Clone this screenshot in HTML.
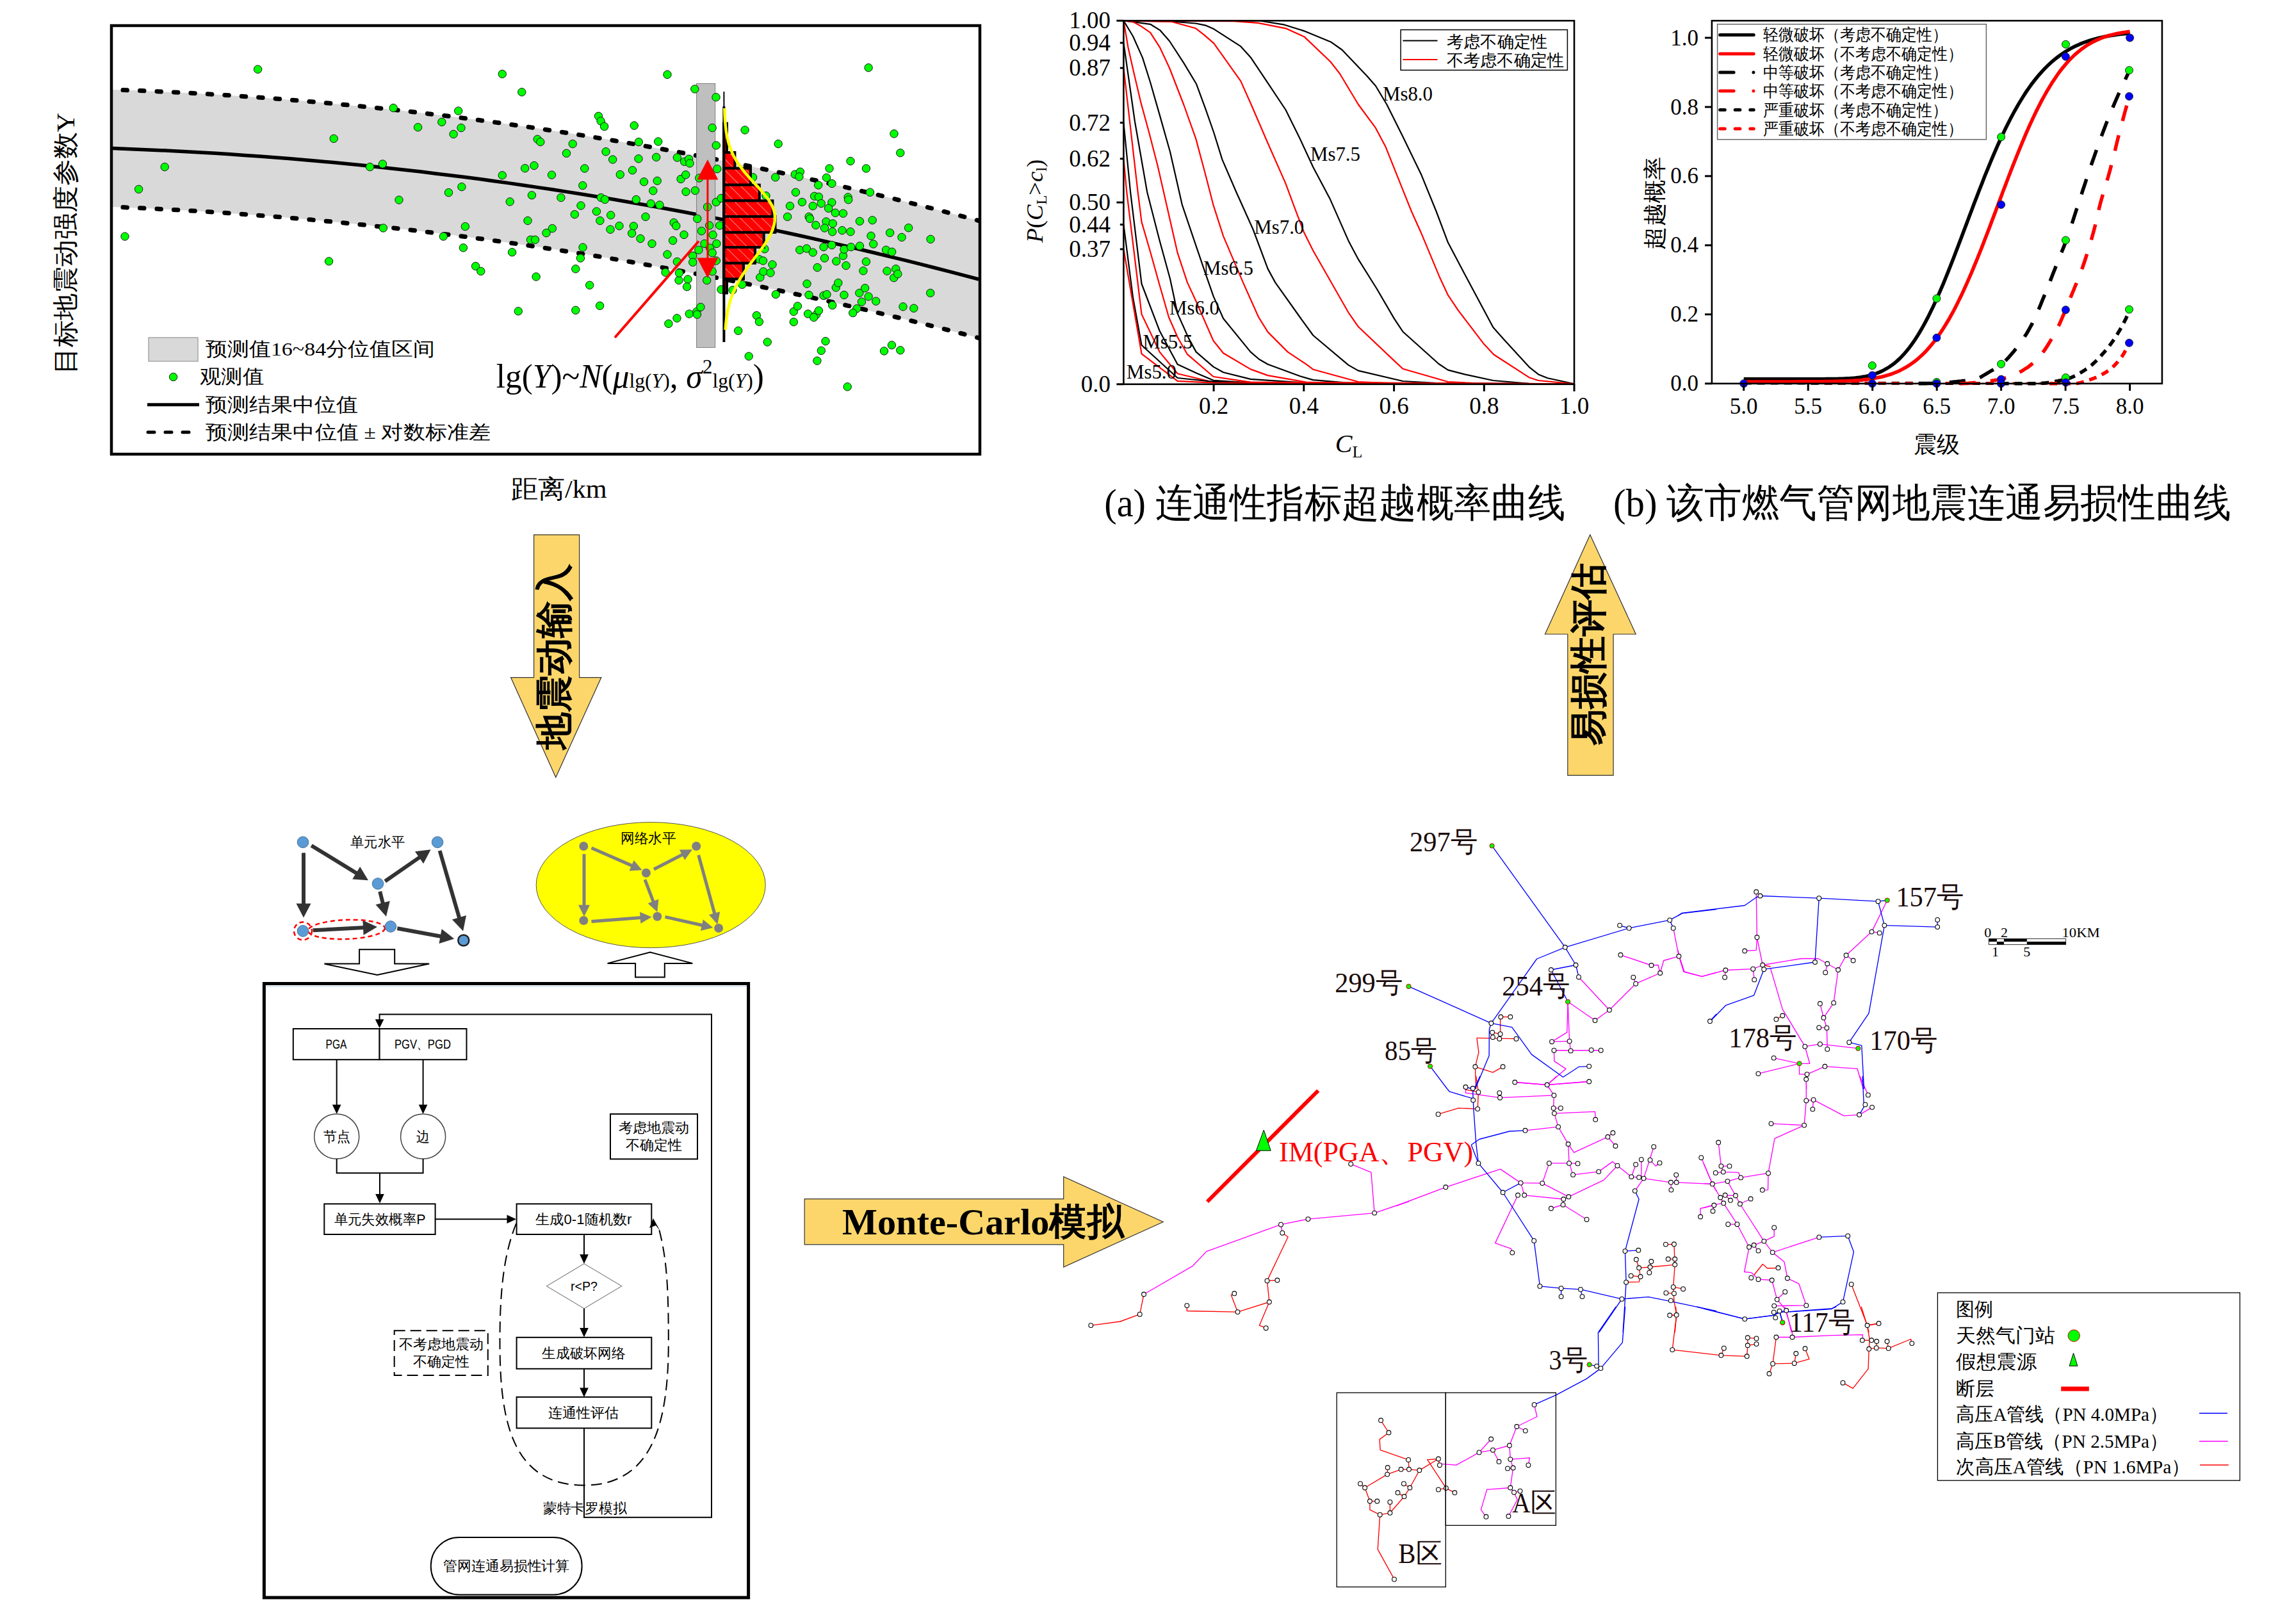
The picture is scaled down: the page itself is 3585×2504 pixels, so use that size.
<!DOCTYPE html>
<html><head><meta charset="utf-8"><style>html,body{margin:0;padding:0;background:#fff;}svg{display:block;}</style></head>
<body><svg width="3585" height="2504" viewBox="0 0 3585 2504">
<rect width="3585" height="2504" fill="#fff"/>
<polygon points="176,140 198.9,140.8 221.8,141.7 244.7,142.7 267.7,143.8 290.6,144.9 313.5,146.2 336.4,147.6 359.3,149 382.2,150.5 405.2,152.2 428.1,153.9 451,155.7 473.9,157.6 496.8,159.6 519.7,161.7 542.6,163.9 565.6,166.1 588.5,168.5 611.4,171 634.3,173.5 657.2,176.2 680.1,178.9 703.1,181.7 726,184.6 748.9,187.6 771.8,190.7 794.7,193.9 817.6,197.2 840.5,200.6 863.5,204 886.4,207.6 909.3,211.3 932.2,215 955.1,218.8 978,222.8 1000.9,226.8 1023.9,230.9 1046.8,235.1 1069.7,239.4 1092.6,243.8 1115.5,248.2 1138.4,252.8 1161.4,257.5 1184.3,262.2 1207.2,267.1 1230.1,272 1253,277 1275.9,282.1 1298.8,287.3 1321.8,292.6 1344.7,298 1367.6,303.5 1390.5,309.1 1413.4,314.8 1436.3,320.5 1459.3,326.4 1482.2,332.3 1505.1,338.4 1528,344.5 1528,527.6 1505.1,521.6 1482.2,515.7 1459.3,509.9 1436.3,504.1 1413.4,498.5 1390.5,492.9 1367.6,487.4 1344.7,482 1321.8,476.7 1298.8,471.5 1275.9,466.4 1253,461.4 1230.1,456.4 1207.2,451.5 1184.3,446.8 1161.4,442.1 1138.4,437.5 1115.5,433 1092.6,428.5 1069.7,424.2 1046.8,419.9 1023.9,415.8 1000.9,411.7 978,407.7 955.1,403.8 932.2,400 909.3,396.2 886.4,392.6 863.5,389 840.5,385.6 817.6,382.2 794.7,378.9 771.8,375.7 748.9,372.6 726,369.6 703.1,366.6 680.1,363.7 657.2,361 634.3,358.3 611.4,355.7 588.5,353.2 565.6,350.8 542.6,348.4 519.7,346.2 496.8,344 473.9,342 451,340 428.1,338.1 405.2,336.3 382.2,334.6 359.3,332.9 336.4,331.4 313.5,329.9 290.6,328.5 267.7,327.3 244.7,326.1 221.8,325 198.9,323.9 176,323" fill="#d9d9d9"/>
<polyline points="192,140.6 214.6,141.4 237.3,142.4 259.9,143.4 282.6,144.5 305.2,145.7 327.9,147 350.5,148.4 373.2,149.9 395.8,151.5 418.4,153.2 441.1,154.9 463.7,156.8 486.4,158.7 509,160.7 531.7,162.8 554.3,165 576.9,167.3 599.6,169.7 622.2,172.2 644.9,174.7 667.5,177.4 690.2,180.1 712.8,182.9 735.5,185.9 758.1,188.9 780.7,192 803.4,195.2 826,198.4 848.7,201.8 871.3,205.3 894,208.8 916.6,212.4 939.3,216.2 961.9,220 984.5,223.9 1007.2,227.9 1029.8,232 1052.5,236.1 1075.1,240.4 1097.8,244.8 1120.4,249.2 1143.1,253.7 1165.7,258.4 1188.3,263.1 1211,267.9 1233.6,272.8 1256.3,277.7 1278.9,282.8 1301.6,288 1324.2,293.2 1346.8,298.6 1369.5,304 1392.1,309.5 1414.8,315.1 1437.4,320.8 1460.1,326.6 1482.7,332.5 1505.4,338.4 1528,344.5" fill="none" stroke="#000" stroke-width="7" stroke-dasharray="6.5,20" stroke-linecap="round"/>
<polyline points="192,323.6 214.6,324.6 237.3,325.7 259.9,326.9 282.6,328.1 305.2,329.4 327.9,330.8 350.5,332.3 373.2,333.9 395.8,335.6 418.4,337.3 441.1,339.2 463.7,341.1 486.4,343.1 509,345.2 531.7,347.4 554.3,349.6 576.9,352 599.6,354.4 622.2,356.9 644.9,359.5 667.5,362.2 690.2,365 712.8,367.8 735.5,370.8 758.1,373.8 780.7,376.9 803.4,380.1 826,383.4 848.7,386.8 871.3,390.3 894,393.8 916.6,397.4 939.3,401.1 961.9,404.9 984.5,408.8 1007.2,412.8 1029.8,416.8 1052.5,421 1075.1,425.2 1097.8,429.5 1120.4,433.9 1143.1,438.4 1165.7,443 1188.3,447.6 1211,452.3 1233.6,457.2 1256.3,462.1 1278.9,467.1 1301.6,472.1 1324.2,477.3 1346.8,482.5 1369.5,487.9 1392.1,493.3 1414.8,498.8 1437.4,504.4 1460.1,510.1 1482.7,515.8 1505.4,521.7 1528,527.6" fill="none" stroke="#000" stroke-width="7" stroke-dasharray="6.5,20" stroke-linecap="round"/>
<polyline points="176,231.6 198.9,232.4 221.8,233.4 244.7,234.4 267.7,235.5 290.6,236.7 313.5,238 336.4,239.3 359.3,240.8 382.2,242.4 405.2,244 428.1,245.7 451,247.6 473.9,249.5 496.8,251.5 519.7,253.6 542.6,255.8 565.6,258.1 588.5,260.5 611.4,262.9 634.3,265.5 657.2,268.1 680.1,270.9 703.1,273.7 726,276.6 748.9,279.6 771.8,282.7 794.7,285.9 817.6,289.2 840.5,292.6 863.5,296 886.4,299.6 909.3,303.2 932.2,307 955.1,310.8 978,314.7 1000.9,318.7 1023.9,322.8 1046.8,327 1069.7,331.3 1092.6,335.7 1115.5,340.1 1138.4,344.7 1161.4,349.3 1184.3,354.1 1207.2,358.9 1230.1,363.8 1253,368.8 1275.9,373.9 1298.8,379.1 1321.8,384.4 1344.7,389.8 1367.6,395.2 1390.5,400.8 1413.4,406.4 1436.3,412.2 1459.3,418 1482.2,423.9 1505.1,429.9 1528,436" fill="none" stroke="#000" stroke-width="5.5"/>
<rect x="1087.6" y="130.4" width="29.1" height="412.1" fill="#bfbfbf" stroke="#7f7f7f" stroke-width="1"/>
<circle cx="402.6" cy="108.2" r="6.2" fill="#00ff00" stroke="#1a1a1a" stroke-width="1"/>
<circle cx="784.3" cy="115.5" r="6.2" fill="#00ff00" stroke="#1a1a1a" stroke-width="1"/>
<circle cx="814.8" cy="143.8" r="6.2" fill="#00ff00" stroke="#1a1a1a" stroke-width="1"/>
<circle cx="614.2" cy="168.5" r="6.2" fill="#00ff00" stroke="#1a1a1a" stroke-width="1"/>
<circle cx="715.7" cy="173.1" r="6.2" fill="#00ff00" stroke="#1a1a1a" stroke-width="1"/>
<circle cx="689.8" cy="190.5" r="6.2" fill="#00ff00" stroke="#1a1a1a" stroke-width="1"/>
<circle cx="652.6" cy="198.7" r="6.2" fill="#00ff00" stroke="#1a1a1a" stroke-width="1"/>
<circle cx="720" cy="199.6" r="6.2" fill="#00ff00" stroke="#1a1a1a" stroke-width="1"/>
<circle cx="708.1" cy="209.4" r="6.2" fill="#00ff00" stroke="#1a1a1a" stroke-width="1"/>
<circle cx="521.2" cy="216.4" r="6.2" fill="#00ff00" stroke="#1a1a1a" stroke-width="1"/>
<circle cx="839.2" cy="217.3" r="6.2" fill="#00ff00" stroke="#1a1a1a" stroke-width="1"/>
<circle cx="843.8" cy="221.6" r="6.2" fill="#00ff00" stroke="#1a1a1a" stroke-width="1"/>
<circle cx="597.4" cy="256" r="6.2" fill="#00ff00" stroke="#1a1a1a" stroke-width="1"/>
<circle cx="577.6" cy="260.6" r="6.2" fill="#00ff00" stroke="#1a1a1a" stroke-width="1"/>
<circle cx="257.2" cy="260.6" r="6.2" fill="#00ff00" stroke="#1a1a1a" stroke-width="1"/>
<circle cx="834" cy="258.5" r="6.2" fill="#00ff00" stroke="#1a1a1a" stroke-width="1"/>
<circle cx="819.7" cy="262.7" r="6.2" fill="#00ff00" stroke="#1a1a1a" stroke-width="1"/>
<circle cx="784.3" cy="273.7" r="6.2" fill="#00ff00" stroke="#1a1a1a" stroke-width="1"/>
<circle cx="861.5" cy="273.1" r="6.2" fill="#00ff00" stroke="#1a1a1a" stroke-width="1"/>
<circle cx="216.6" cy="295.4" r="6.2" fill="#00ff00" stroke="#1a1a1a" stroke-width="1"/>
<circle cx="720.9" cy="291.7" r="6.2" fill="#00ff00" stroke="#1a1a1a" stroke-width="1"/>
<circle cx="700.5" cy="300.6" r="6.2" fill="#00ff00" stroke="#1a1a1a" stroke-width="1"/>
<circle cx="830.4" cy="304.8" r="6.2" fill="#00ff00" stroke="#1a1a1a" stroke-width="1"/>
<circle cx="623" cy="312.1" r="6.2" fill="#00ff00" stroke="#1a1a1a" stroke-width="1"/>
<circle cx="796.2" cy="314.9" r="6.2" fill="#00ff00" stroke="#1a1a1a" stroke-width="1"/>
<circle cx="824" cy="344.5" r="6.2" fill="#00ff00" stroke="#1a1a1a" stroke-width="1"/>
<circle cx="726.4" cy="353.6" r="6.2" fill="#00ff00" stroke="#1a1a1a" stroke-width="1"/>
<circle cx="598.4" cy="356" r="6.2" fill="#00ff00" stroke="#1a1a1a" stroke-width="1"/>
<circle cx="862.4" cy="356.6" r="6.2" fill="#00ff00" stroke="#1a1a1a" stroke-width="1"/>
<circle cx="853" cy="363.7" r="6.2" fill="#00ff00" stroke="#1a1a1a" stroke-width="1"/>
<circle cx="692.3" cy="369.1" r="6.2" fill="#00ff00" stroke="#1a1a1a" stroke-width="1"/>
<circle cx="828.5" cy="374.3" r="6.2" fill="#00ff00" stroke="#1a1a1a" stroke-width="1"/>
<circle cx="835.5" cy="374.3" r="6.2" fill="#00ff00" stroke="#1a1a1a" stroke-width="1"/>
<circle cx="195" cy="369.1" r="6.2" fill="#00ff00" stroke="#1a1a1a" stroke-width="1"/>
<circle cx="723.4" cy="386.8" r="6.2" fill="#00ff00" stroke="#1a1a1a" stroke-width="1"/>
<circle cx="799.6" cy="393.8" r="6.2" fill="#00ff00" stroke="#1a1a1a" stroke-width="1"/>
<circle cx="513.6" cy="407.9" r="6.2" fill="#00ff00" stroke="#1a1a1a" stroke-width="1"/>
<circle cx="742.6" cy="415.5" r="6.2" fill="#00ff00" stroke="#1a1a1a" stroke-width="1"/>
<circle cx="750.8" cy="423.4" r="6.2" fill="#00ff00" stroke="#1a1a1a" stroke-width="1"/>
<circle cx="837.1" cy="432" r="6.2" fill="#00ff00" stroke="#1a1a1a" stroke-width="1"/>
<circle cx="809.3" cy="485.8" r="6.2" fill="#00ff00" stroke="#1a1a1a" stroke-width="1"/>
<circle cx="920.7" cy="445.2" r="6.2" fill="#00ff00" stroke="#1a1a1a" stroke-width="1"/>
<circle cx="898.8" cy="484.3" r="6.2" fill="#00ff00" stroke="#1a1a1a" stroke-width="1"/>
<circle cx="936.6" cy="477.3" r="6.2" fill="#00ff00" stroke="#1a1a1a" stroke-width="1"/>
<circle cx="1043.9" cy="505.3" r="6.2" fill="#00ff00" stroke="#1a1a1a" stroke-width="1"/>
<circle cx="1057" cy="496.8" r="6.2" fill="#00ff00" stroke="#1a1a1a" stroke-width="1"/>
<circle cx="1076.2" cy="490" r="6.2" fill="#00ff00" stroke="#1a1a1a" stroke-width="1"/>
<circle cx="1087.8" cy="486.4" r="6.2" fill="#00ff00" stroke="#1a1a1a" stroke-width="1"/>
<circle cx="1088.4" cy="491" r="6.2" fill="#00ff00" stroke="#1a1a1a" stroke-width="1"/>
<circle cx="1093.9" cy="479.4" r="6.2" fill="#00ff00" stroke="#1a1a1a" stroke-width="1"/>
<circle cx="1152.7" cy="516.3" r="6.2" fill="#00ff00" stroke="#1a1a1a" stroke-width="1"/>
<circle cx="1181.4" cy="492.5" r="6.2" fill="#00ff00" stroke="#1a1a1a" stroke-width="1"/>
<circle cx="1185.4" cy="502.3" r="6.2" fill="#00ff00" stroke="#1a1a1a" stroke-width="1"/>
<circle cx="1198.2" cy="534" r="6.2" fill="#00ff00" stroke="#1a1a1a" stroke-width="1"/>
<circle cx="1169.2" cy="556.2" r="6.2" fill="#00ff00" stroke="#1a1a1a" stroke-width="1"/>
<circle cx="1211.3" cy="459.6" r="6.2" fill="#00ff00" stroke="#1a1a1a" stroke-width="1"/>
<circle cx="1239.3" cy="486.4" r="6.2" fill="#00ff00" stroke="#1a1a1a" stroke-width="1"/>
<circle cx="1245.4" cy="477.9" r="6.2" fill="#00ff00" stroke="#1a1a1a" stroke-width="1"/>
<circle cx="1261.6" cy="490" r="6.2" fill="#00ff00" stroke="#1a1a1a" stroke-width="1"/>
<circle cx="1274.7" cy="491" r="6.2" fill="#00ff00" stroke="#1a1a1a" stroke-width="1"/>
<circle cx="1278.4" cy="484.9" r="6.2" fill="#00ff00" stroke="#1a1a1a" stroke-width="1"/>
<circle cx="1270.7" cy="495.5" r="6.2" fill="#00ff00" stroke="#1a1a1a" stroke-width="1"/>
<circle cx="1239.3" cy="502.6" r="6.2" fill="#00ff00" stroke="#1a1a1a" stroke-width="1"/>
<circle cx="1289" cy="532.7" r="6.2" fill="#00ff00" stroke="#1a1a1a" stroke-width="1"/>
<circle cx="1282.3" cy="547.4" r="6.2" fill="#00ff00" stroke="#1a1a1a" stroke-width="1"/>
<circle cx="1275.9" cy="563.2" r="6.2" fill="#00ff00" stroke="#1a1a1a" stroke-width="1"/>
<circle cx="1323.2" cy="603.8" r="6.2" fill="#00ff00" stroke="#1a1a1a" stroke-width="1"/>
<circle cx="1299.7" cy="476.6" r="6.2" fill="#00ff00" stroke="#1a1a1a" stroke-width="1"/>
<circle cx="1260" cy="443" r="6.2" fill="#00ff00" stroke="#1a1a1a" stroke-width="1"/>
<circle cx="1263" cy="460.5" r="6.2" fill="#00ff00" stroke="#1a1a1a" stroke-width="1"/>
<circle cx="1286" cy="461.4" r="6.2" fill="#00ff00" stroke="#1a1a1a" stroke-width="1"/>
<circle cx="1291" cy="459.6" r="6.2" fill="#00ff00" stroke="#1a1a1a" stroke-width="1"/>
<circle cx="1305.2" cy="448.9" r="6.2" fill="#00ff00" stroke="#1a1a1a" stroke-width="1"/>
<circle cx="1308.8" cy="441.6" r="6.2" fill="#00ff00" stroke="#1a1a1a" stroke-width="1"/>
<circle cx="1318" cy="460.5" r="6.2" fill="#00ff00" stroke="#1a1a1a" stroke-width="1"/>
<circle cx="1341.8" cy="457.4" r="6.2" fill="#00ff00" stroke="#1a1a1a" stroke-width="1"/>
<circle cx="1350.6" cy="449.8" r="6.2" fill="#00ff00" stroke="#1a1a1a" stroke-width="1"/>
<circle cx="1356.1" cy="462.9" r="6.2" fill="#00ff00" stroke="#1a1a1a" stroke-width="1"/>
<circle cx="1367.7" cy="470.2" r="6.2" fill="#00ff00" stroke="#1a1a1a" stroke-width="1"/>
<circle cx="1345.4" cy="471.2" r="6.2" fill="#00ff00" stroke="#1a1a1a" stroke-width="1"/>
<circle cx="1337.8" cy="481.8" r="6.2" fill="#00ff00" stroke="#1a1a1a" stroke-width="1"/>
<circle cx="1331.7" cy="488.5" r="6.2" fill="#00ff00" stroke="#1a1a1a" stroke-width="1"/>
<circle cx="1410" cy="478.8" r="6.2" fill="#00ff00" stroke="#1a1a1a" stroke-width="1"/>
<circle cx="1426.8" cy="481.2" r="6.2" fill="#00ff00" stroke="#1a1a1a" stroke-width="1"/>
<circle cx="1452.7" cy="457.4" r="6.2" fill="#00ff00" stroke="#1a1a1a" stroke-width="1"/>
<circle cx="1392.4" cy="538.8" r="6.2" fill="#00ff00" stroke="#1a1a1a" stroke-width="1"/>
<circle cx="1380.5" cy="548" r="6.2" fill="#00ff00" stroke="#1a1a1a" stroke-width="1"/>
<circle cx="1405.8" cy="546.8" r="6.2" fill="#00ff00" stroke="#1a1a1a" stroke-width="1"/>
<circle cx="1395.7" cy="433.7" r="6.2" fill="#00ff00" stroke="#1a1a1a" stroke-width="1"/>
<circle cx="1186.9" cy="433" r="6.2" fill="#00ff00" stroke="#1a1a1a" stroke-width="1"/>
<circle cx="1074" cy="436" r="6.2" fill="#00ff00" stroke="#1a1a1a" stroke-width="1"/>
<circle cx="1060" cy="437.6" r="6.2" fill="#00ff00" stroke="#1a1a1a" stroke-width="1"/>
<circle cx="1072.6" cy="447.7" r="6.2" fill="#00ff00" stroke="#1a1a1a" stroke-width="1"/>
<circle cx="1126" cy="452" r="6.2" fill="#00ff00" stroke="#1a1a1a" stroke-width="1"/>
<circle cx="1144" cy="452.9" r="6.2" fill="#00ff00" stroke="#1a1a1a" stroke-width="1"/>
<circle cx="1158.8" cy="444.3" r="6.2" fill="#00ff00" stroke="#1a1a1a" stroke-width="1"/>
<circle cx="1103.7" cy="437.6" r="6.2" fill="#00ff00" stroke="#1a1a1a" stroke-width="1"/>
<circle cx="1042" cy="116.4" r="6.2" fill="#00ff00" stroke="#1a1a1a" stroke-width="1"/>
<circle cx="1356.1" cy="105.7" r="6.2" fill="#00ff00" stroke="#1a1a1a" stroke-width="1"/>
<circle cx="1084.8" cy="139" r="6.2" fill="#00ff00" stroke="#1a1a1a" stroke-width="1"/>
<circle cx="1118" cy="151.8" r="6.2" fill="#00ff00" stroke="#1a1a1a" stroke-width="1"/>
<circle cx="934.5" cy="181.3" r="6.2" fill="#00ff00" stroke="#1a1a1a" stroke-width="1"/>
<circle cx="938.1" cy="189" r="6.2" fill="#00ff00" stroke="#1a1a1a" stroke-width="1"/>
<circle cx="943.6" cy="197.5" r="6.2" fill="#00ff00" stroke="#1a1a1a" stroke-width="1"/>
<circle cx="990.2" cy="196" r="6.2" fill="#00ff00" stroke="#1a1a1a" stroke-width="1"/>
<circle cx="1112.2" cy="199.6" r="6.2" fill="#00ff00" stroke="#1a1a1a" stroke-width="1"/>
<circle cx="1163.1" cy="203" r="6.2" fill="#00ff00" stroke="#1a1a1a" stroke-width="1"/>
<circle cx="1396" cy="208.8" r="6.2" fill="#00ff00" stroke="#1a1a1a" stroke-width="1"/>
<circle cx="1215.2" cy="224.6" r="6.2" fill="#00ff00" stroke="#1a1a1a" stroke-width="1"/>
<circle cx="1405.8" cy="238.7" r="6.2" fill="#00ff00" stroke="#1a1a1a" stroke-width="1"/>
<circle cx="894.2" cy="224.6" r="6.2" fill="#00ff00" stroke="#1a1a1a" stroke-width="1"/>
<circle cx="884.5" cy="239.3" r="6.2" fill="#00ff00" stroke="#1a1a1a" stroke-width="1"/>
<circle cx="997.3" cy="221.6" r="6.2" fill="#00ff00" stroke="#1a1a1a" stroke-width="1"/>
<circle cx="1027.7" cy="221" r="6.2" fill="#00ff00" stroke="#1a1a1a" stroke-width="1"/>
<circle cx="1118.3" cy="227" r="6.2" fill="#00ff00" stroke="#1a1a1a" stroke-width="1"/>
<circle cx="946" cy="236.8" r="6.2" fill="#00ff00" stroke="#1a1a1a" stroke-width="1"/>
<circle cx="956.7" cy="249" r="6.2" fill="#00ff00" stroke="#1a1a1a" stroke-width="1"/>
<circle cx="997" cy="247.8" r="6.2" fill="#00ff00" stroke="#1a1a1a" stroke-width="1"/>
<circle cx="1024.7" cy="245.4" r="6.2" fill="#00ff00" stroke="#1a1a1a" stroke-width="1"/>
<circle cx="1057.3" cy="246" r="6.2" fill="#00ff00" stroke="#1a1a1a" stroke-width="1"/>
<circle cx="1068.6" cy="252.4" r="6.2" fill="#00ff00" stroke="#1a1a1a" stroke-width="1"/>
<circle cx="1075.6" cy="248.4" r="6.2" fill="#00ff00" stroke="#1a1a1a" stroke-width="1"/>
<circle cx="1077" cy="255" r="6.2" fill="#00ff00" stroke="#1a1a1a" stroke-width="1"/>
<circle cx="1328" cy="251.5" r="6.2" fill="#00ff00" stroke="#1a1a1a" stroke-width="1"/>
<circle cx="1295" cy="263" r="6.2" fill="#00ff00" stroke="#1a1a1a" stroke-width="1"/>
<circle cx="1352.4" cy="263" r="6.2" fill="#00ff00" stroke="#1a1a1a" stroke-width="1"/>
<circle cx="912.8" cy="263" r="6.2" fill="#00ff00" stroke="#1a1a1a" stroke-width="1"/>
<circle cx="968.3" cy="272.5" r="6.2" fill="#00ff00" stroke="#1a1a1a" stroke-width="1"/>
<circle cx="987.5" cy="265.8" r="6.2" fill="#00ff00" stroke="#1a1a1a" stroke-width="1"/>
<circle cx="1005.5" cy="283.8" r="6.2" fill="#00ff00" stroke="#1a1a1a" stroke-width="1"/>
<circle cx="1026.2" cy="282.3" r="6.2" fill="#00ff00" stroke="#1a1a1a" stroke-width="1"/>
<circle cx="1063.1" cy="279.5" r="6.2" fill="#00ff00" stroke="#1a1a1a" stroke-width="1"/>
<circle cx="1070.7" cy="272.8" r="6.2" fill="#00ff00" stroke="#1a1a1a" stroke-width="1"/>
<circle cx="1091.8" cy="278" r="6.2" fill="#00ff00" stroke="#1a1a1a" stroke-width="1"/>
<circle cx="1119.8" cy="263.7" r="6.2" fill="#00ff00" stroke="#1a1a1a" stroke-width="1"/>
<circle cx="1210.7" cy="276.8" r="6.2" fill="#00ff00" stroke="#1a1a1a" stroke-width="1"/>
<circle cx="1175.6" cy="276.8" r="6.2" fill="#00ff00" stroke="#1a1a1a" stroke-width="1"/>
<circle cx="1241.2" cy="272.2" r="6.2" fill="#00ff00" stroke="#1a1a1a" stroke-width="1"/>
<circle cx="1249.4" cy="268.2" r="6.2" fill="#00ff00" stroke="#1a1a1a" stroke-width="1"/>
<circle cx="1247.9" cy="275.9" r="6.2" fill="#00ff00" stroke="#1a1a1a" stroke-width="1"/>
<circle cx="1290.5" cy="277.4" r="6.2" fill="#00ff00" stroke="#1a1a1a" stroke-width="1"/>
<circle cx="1299" cy="286.5" r="6.2" fill="#00ff00" stroke="#1a1a1a" stroke-width="1"/>
<circle cx="1277.7" cy="289" r="6.2" fill="#00ff00" stroke="#1a1a1a" stroke-width="1"/>
<circle cx="909.8" cy="289.6" r="6.2" fill="#00ff00" stroke="#1a1a1a" stroke-width="1"/>
<circle cx="1019.8" cy="297.8" r="6.2" fill="#00ff00" stroke="#1a1a1a" stroke-width="1"/>
<circle cx="1071" cy="299.3" r="6.2" fill="#00ff00" stroke="#1a1a1a" stroke-width="1"/>
<circle cx="1085.4" cy="297.5" r="6.2" fill="#00ff00" stroke="#1a1a1a" stroke-width="1"/>
<circle cx="1242.4" cy="300.2" r="6.2" fill="#00ff00" stroke="#1a1a1a" stroke-width="1"/>
<circle cx="1358.5" cy="300.2" r="6.2" fill="#00ff00" stroke="#1a1a1a" stroke-width="1"/>
<circle cx="875.9" cy="308.5" r="6.2" fill="#00ff00" stroke="#1a1a1a" stroke-width="1"/>
<circle cx="938.4" cy="308.5" r="6.2" fill="#00ff00" stroke="#1a1a1a" stroke-width="1"/>
<circle cx="944.5" cy="311.5" r="6.2" fill="#00ff00" stroke="#1a1a1a" stroke-width="1"/>
<circle cx="993.3" cy="311.5" r="6.2" fill="#00ff00" stroke="#1a1a1a" stroke-width="1"/>
<circle cx="1016.2" cy="317.9" r="6.2" fill="#00ff00" stroke="#1a1a1a" stroke-width="1"/>
<circle cx="1029.9" cy="320" r="6.2" fill="#00ff00" stroke="#1a1a1a" stroke-width="1"/>
<circle cx="1118.3" cy="315.5" r="6.2" fill="#00ff00" stroke="#1a1a1a" stroke-width="1"/>
<circle cx="1126" cy="309.4" r="6.2" fill="#00ff00" stroke="#1a1a1a" stroke-width="1"/>
<circle cx="1196" cy="305.7" r="6.2" fill="#00ff00" stroke="#1a1a1a" stroke-width="1"/>
<circle cx="1252.4" cy="315.5" r="6.2" fill="#00ff00" stroke="#1a1a1a" stroke-width="1"/>
<circle cx="1271.6" cy="306.3" r="6.2" fill="#00ff00" stroke="#1a1a1a" stroke-width="1"/>
<circle cx="1278.4" cy="307.3" r="6.2" fill="#00ff00" stroke="#1a1a1a" stroke-width="1"/>
<circle cx="1282.3" cy="317.6" r="6.2" fill="#00ff00" stroke="#1a1a1a" stroke-width="1"/>
<circle cx="1298.8" cy="316" r="6.2" fill="#00ff00" stroke="#1a1a1a" stroke-width="1"/>
<circle cx="1293.6" cy="325.2" r="6.2" fill="#00ff00" stroke="#1a1a1a" stroke-width="1"/>
<circle cx="1324.1" cy="307.9" r="6.2" fill="#00ff00" stroke="#1a1a1a" stroke-width="1"/>
<circle cx="1324.7" cy="311.8" r="6.2" fill="#00ff00" stroke="#1a1a1a" stroke-width="1"/>
<circle cx="1269.2" cy="321.6" r="6.2" fill="#00ff00" stroke="#1a1a1a" stroke-width="1"/>
<circle cx="1233.5" cy="321.6" r="6.2" fill="#00ff00" stroke="#1a1a1a" stroke-width="1"/>
<circle cx="907" cy="321" r="6.2" fill="#00ff00" stroke="#1a1a1a" stroke-width="1"/>
<circle cx="897.3" cy="334.7" r="6.2" fill="#00ff00" stroke="#1a1a1a" stroke-width="1"/>
<circle cx="931.4" cy="330.1" r="6.2" fill="#00ff00" stroke="#1a1a1a" stroke-width="1"/>
<circle cx="953.7" cy="335.9" r="6.2" fill="#00ff00" stroke="#1a1a1a" stroke-width="1"/>
<circle cx="1008" cy="338.4" r="6.2" fill="#00ff00" stroke="#1a1a1a" stroke-width="1"/>
<circle cx="1104.6" cy="323.1" r="6.2" fill="#00ff00" stroke="#1a1a1a" stroke-width="1"/>
<circle cx="1304.3" cy="332.3" r="6.2" fill="#00ff00" stroke="#1a1a1a" stroke-width="1"/>
<circle cx="1316.5" cy="333.2" r="6.2" fill="#00ff00" stroke="#1a1a1a" stroke-width="1"/>
<circle cx="1229.6" cy="338.4" r="6.2" fill="#00ff00" stroke="#1a1a1a" stroke-width="1"/>
<circle cx="1263.1" cy="338.4" r="6.2" fill="#00ff00" stroke="#1a1a1a" stroke-width="1"/>
<circle cx="1264.6" cy="341.4" r="6.2" fill="#00ff00" stroke="#1a1a1a" stroke-width="1"/>
<circle cx="1273.8" cy="351.5" r="6.2" fill="#00ff00" stroke="#1a1a1a" stroke-width="1"/>
<circle cx="1290" cy="346" r="6.2" fill="#00ff00" stroke="#1a1a1a" stroke-width="1"/>
<circle cx="1300.3" cy="349" r="6.2" fill="#00ff00" stroke="#1a1a1a" stroke-width="1"/>
<circle cx="1287.5" cy="356" r="6.2" fill="#00ff00" stroke="#1a1a1a" stroke-width="1"/>
<circle cx="1299.7" cy="361.8" r="6.2" fill="#00ff00" stroke="#1a1a1a" stroke-width="1"/>
<circle cx="1315" cy="359.7" r="6.2" fill="#00ff00" stroke="#1a1a1a" stroke-width="1"/>
<circle cx="1328" cy="361.8" r="6.2" fill="#00ff00" stroke="#1a1a1a" stroke-width="1"/>
<circle cx="1342.4" cy="345.4" r="6.2" fill="#00ff00" stroke="#1a1a1a" stroke-width="1"/>
<circle cx="1362.2" cy="343.8" r="6.2" fill="#00ff00" stroke="#1a1a1a" stroke-width="1"/>
<circle cx="1418.6" cy="355.7" r="6.2" fill="#00ff00" stroke="#1a1a1a" stroke-width="1"/>
<circle cx="1389.6" cy="363.4" r="6.2" fill="#00ff00" stroke="#1a1a1a" stroke-width="1"/>
<circle cx="1360" cy="368.2" r="6.2" fill="#00ff00" stroke="#1a1a1a" stroke-width="1"/>
<circle cx="1363.7" cy="381" r="6.2" fill="#00ff00" stroke="#1a1a1a" stroke-width="1"/>
<circle cx="1408" cy="370.4" r="6.2" fill="#00ff00" stroke="#1a1a1a" stroke-width="1"/>
<circle cx="1453" cy="373.4" r="6.2" fill="#00ff00" stroke="#1a1a1a" stroke-width="1"/>
<circle cx="936.9" cy="344.5" r="6.2" fill="#00ff00" stroke="#1a1a1a" stroke-width="1"/>
<circle cx="953" cy="358.2" r="6.2" fill="#00ff00" stroke="#1a1a1a" stroke-width="1"/>
<circle cx="967" cy="352.7" r="6.2" fill="#00ff00" stroke="#1a1a1a" stroke-width="1"/>
<circle cx="989.3" cy="353" r="6.2" fill="#00ff00" stroke="#1a1a1a" stroke-width="1"/>
<circle cx="986.6" cy="364.3" r="6.2" fill="#00ff00" stroke="#1a1a1a" stroke-width="1"/>
<circle cx="1000" cy="372.5" r="6.2" fill="#00ff00" stroke="#1a1a1a" stroke-width="1"/>
<circle cx="1018" cy="380.4" r="6.2" fill="#00ff00" stroke="#1a1a1a" stroke-width="1"/>
<circle cx="1052.1" cy="347.5" r="6.2" fill="#00ff00" stroke="#1a1a1a" stroke-width="1"/>
<circle cx="1055.8" cy="352.7" r="6.2" fill="#00ff00" stroke="#1a1a1a" stroke-width="1"/>
<circle cx="1068" cy="366.4" r="6.2" fill="#00ff00" stroke="#1a1a1a" stroke-width="1"/>
<circle cx="1050.6" cy="375.5" r="6.2" fill="#00ff00" stroke="#1a1a1a" stroke-width="1"/>
<circle cx="1088.7" cy="341.4" r="6.2" fill="#00ff00" stroke="#1a1a1a" stroke-width="1"/>
<circle cx="1095.4" cy="360.6" r="6.2" fill="#00ff00" stroke="#1a1a1a" stroke-width="1"/>
<circle cx="1107.6" cy="352" r="6.2" fill="#00ff00" stroke="#1a1a1a" stroke-width="1"/>
<circle cx="1113.1" cy="366.7" r="6.2" fill="#00ff00" stroke="#1a1a1a" stroke-width="1"/>
<circle cx="1123.8" cy="352" r="6.2" fill="#00ff00" stroke="#1a1a1a" stroke-width="1"/>
<circle cx="1118.9" cy="380.4" r="6.2" fill="#00ff00" stroke="#1a1a1a" stroke-width="1"/>
<circle cx="1100" cy="380.4" r="6.2" fill="#00ff00" stroke="#1a1a1a" stroke-width="1"/>
<circle cx="1108.5" cy="387.1" r="6.2" fill="#00ff00" stroke="#1a1a1a" stroke-width="1"/>
<circle cx="910" cy="386.2" r="6.2" fill="#00ff00" stroke="#1a1a1a" stroke-width="1"/>
<circle cx="906.4" cy="403" r="6.2" fill="#00ff00" stroke="#1a1a1a" stroke-width="1"/>
<circle cx="898.8" cy="419.8" r="6.2" fill="#00ff00" stroke="#1a1a1a" stroke-width="1"/>
<circle cx="1042" cy="397.2" r="6.2" fill="#00ff00" stroke="#1a1a1a" stroke-width="1"/>
<circle cx="1057.3" cy="408.5" r="6.2" fill="#00ff00" stroke="#1a1a1a" stroke-width="1"/>
<circle cx="1039" cy="425.2" r="6.2" fill="#00ff00" stroke="#1a1a1a" stroke-width="1"/>
<circle cx="1060.4" cy="426.2" r="6.2" fill="#00ff00" stroke="#1a1a1a" stroke-width="1"/>
<circle cx="1081.7" cy="399.3" r="6.2" fill="#00ff00" stroke="#1a1a1a" stroke-width="1"/>
<circle cx="1090.9" cy="390.2" r="6.2" fill="#00ff00" stroke="#1a1a1a" stroke-width="1"/>
<circle cx="1081.7" cy="409.4" r="6.2" fill="#00ff00" stroke="#1a1a1a" stroke-width="1"/>
<circle cx="1112.2" cy="394.8" r="6.2" fill="#00ff00" stroke="#1a1a1a" stroke-width="1"/>
<circle cx="1118.3" cy="407" r="6.2" fill="#00ff00" stroke="#1a1a1a" stroke-width="1"/>
<circle cx="1112.2" cy="423.7" r="6.2" fill="#00ff00" stroke="#1a1a1a" stroke-width="1"/>
<circle cx="1185.4" cy="404.8" r="6.2" fill="#00ff00" stroke="#1a1a1a" stroke-width="1"/>
<circle cx="1191.5" cy="407" r="6.2" fill="#00ff00" stroke="#1a1a1a" stroke-width="1"/>
<circle cx="1206" cy="413" r="6.2" fill="#00ff00" stroke="#1a1a1a" stroke-width="1"/>
<circle cx="1192" cy="424" r="6.2" fill="#00ff00" stroke="#1a1a1a" stroke-width="1"/>
<circle cx="1203" cy="425.9" r="6.2" fill="#00ff00" stroke="#1a1a1a" stroke-width="1"/>
<circle cx="1193.9" cy="388.7" r="6.2" fill="#00ff00" stroke="#1a1a1a" stroke-width="1"/>
<circle cx="1248.8" cy="390.2" r="6.2" fill="#00ff00" stroke="#1a1a1a" stroke-width="1"/>
<circle cx="1259.5" cy="388" r="6.2" fill="#00ff00" stroke="#1a1a1a" stroke-width="1"/>
<circle cx="1269.2" cy="394.1" r="6.2" fill="#00ff00" stroke="#1a1a1a" stroke-width="1"/>
<circle cx="1286" cy="385.6" r="6.2" fill="#00ff00" stroke="#1a1a1a" stroke-width="1"/>
<circle cx="1298.8" cy="382.6" r="6.2" fill="#00ff00" stroke="#1a1a1a" stroke-width="1"/>
<circle cx="1287.5" cy="403" r="6.2" fill="#00ff00" stroke="#1a1a1a" stroke-width="1"/>
<circle cx="1305.8" cy="407.9" r="6.2" fill="#00ff00" stroke="#1a1a1a" stroke-width="1"/>
<circle cx="1316.5" cy="399.3" r="6.2" fill="#00ff00" stroke="#1a1a1a" stroke-width="1"/>
<circle cx="1321" cy="414.6" r="6.2" fill="#00ff00" stroke="#1a1a1a" stroke-width="1"/>
<circle cx="1276.2" cy="417.6" r="6.2" fill="#00ff00" stroke="#1a1a1a" stroke-width="1"/>
<circle cx="1318" cy="389.3" r="6.2" fill="#00ff00" stroke="#1a1a1a" stroke-width="1"/>
<circle cx="1352.4" cy="408.5" r="6.2" fill="#00ff00" stroke="#1a1a1a" stroke-width="1"/>
<circle cx="1347.9" cy="422.8" r="6.2" fill="#00ff00" stroke="#1a1a1a" stroke-width="1"/>
<circle cx="1385" cy="423.1" r="6.2" fill="#00ff00" stroke="#1a1a1a" stroke-width="1"/>
<circle cx="1398.8" cy="419.8" r="6.2" fill="#00ff00" stroke="#1a1a1a" stroke-width="1"/>
<circle cx="1401.8" cy="427.7" r="6.2" fill="#00ff00" stroke="#1a1a1a" stroke-width="1"/>
<circle cx="1383.5" cy="390.2" r="6.2" fill="#00ff00" stroke="#1a1a1a" stroke-width="1"/>
<circle cx="1392.7" cy="393.2" r="6.2" fill="#00ff00" stroke="#1a1a1a" stroke-width="1"/>
<circle cx="1342.4" cy="384" r="6.2" fill="#00ff00" stroke="#1a1a1a" stroke-width="1"/>
<circle cx="1328.7" cy="385.6" r="6.2" fill="#00ff00" stroke="#1a1a1a" stroke-width="1"/>
<defs><pattern id="hatch" patternUnits="userSpaceOnUse" width="12" height="12" patternTransform="rotate(-45)"><rect width="12" height="12" fill="#ff0000"/><line x1="0" y1="0" x2="0" y2="12" stroke="#e88" stroke-width="2"/></pattern></defs>
<rect x="1130" y="192.7" width="5" height="45.3" fill="url(#hatch)" stroke="#000" stroke-width="4"/>
<rect x="1130" y="238" width="17.4" height="24.7" fill="url(#hatch)" stroke="#000" stroke-width="4"/>
<rect x="1130" y="262.7" width="42" height="26" fill="url(#hatch)" stroke="#000" stroke-width="4"/>
<rect x="1130" y="288.7" width="55.8" height="24.7" fill="url(#hatch)" stroke="#000" stroke-width="4"/>
<rect x="1130" y="313.4" width="76.4" height="24.6" fill="url(#hatch)" stroke="#000" stroke-width="4"/>
<rect x="1130" y="338" width="80.5" height="24.8" fill="url(#hatch)" stroke="#000" stroke-width="4"/>
<rect x="1130" y="362.8" width="62.7" height="23.2" fill="url(#hatch)" stroke="#000" stroke-width="4"/>
<rect x="1130" y="386" width="49" height="24.8" fill="url(#hatch)" stroke="#000" stroke-width="4"/>
<rect x="1130" y="410.8" width="31" height="24.7" fill="url(#hatch)" stroke="#000" stroke-width="4"/>
<rect x="1130" y="435.5" width="5" height="22" fill="url(#hatch)" stroke="#000" stroke-width="4"/>
<line x1="1130.4" y1="143" x2="1130.4" y2="166" stroke="#000" stroke-width="2"/>
<line x1="1130.4" y1="166" x2="1130.4" y2="534" stroke="#000" stroke-width="4"/>
<polyline points="1131.4,169 1131.5,173.4 1131.6,177.8 1131.8,182.1 1132.1,186.5 1132.4,190.9 1132.7,195.3 1133.2,199.7 1133.7,204 1134.4,208.4 1135.2,212.8 1136.1,217.2 1137.2,221.6 1138.4,225.9 1139.9,230.3 1141.6,234.7 1143.5,239.1 1145.6,243.5 1148,247.8 1150.6,252.2 1153.5,256.6 1156.6,261 1160,265.4 1163.5,269.7 1167.3,274.1 1171.1,278.5 1175.1,282.9 1179.1,287.3 1183.2,291.6 1187.1,296 1191,300.4 1194.6,304.8 1198,309.2 1201.1,313.5 1203.8,317.9 1206,322.3 1207.8,326.7 1209.1,331.1 1209.8,335.4 1210,339.8 1209.7,344.2 1209.1,348.6 1208.1,352.9 1206.7,357.3 1205,361.7 1203,366.1 1200.7,370.5 1198.2,374.8 1195.4,379.2 1192.5,383.6 1189.4,388 1186.2,392.4 1182.9,396.7 1179.6,401.1 1176.3,405.5 1172.9,409.9 1169.7,414.3 1166.5,418.6 1163.5,423 1160.5,427.4 1157.7,431.8 1155,436.2 1152.6,440.5 1150.2,444.9 1148.1,449.3 1146.1,453.7 1144.2,458.1 1142.6,462.4 1141.1,466.8 1139.7,471.2 1138.5,475.6 1137.5,480 1136.5,484.3 1135.7,488.7 1135,493.1 1134.3,497.5 1133.8,501.9 1133.3,506.2 1132.9,510.6 1132.6,515" fill="none" stroke="#ffff00" stroke-width="4.5"/>
<line x1="1104.9" y1="275" x2="1104.9" y2="408" stroke="#ff0000" stroke-width="3"/>
<polygon points="1104.9,249 1088.4,280.5 1121.4,280.5" fill="#ff0000"/>
<polygon points="1104.9,434 1088.4,402.6 1121.4,402.6" fill="#ff0000"/>
<line x1="960" y1="527" x2="1091" y2="376.5" stroke="#ff0000" stroke-width="4"/>
<rect x="174" y="40" width="1356" height="669" fill="none" stroke="#000" stroke-width="4.5"/>
<rect x="232" y="527" width="77" height="37" fill="#d9d9d9" stroke="#a6a6a6" stroke-width="1.5"/>
<text x="321" y="555" font-size="30" font-family="Liberation Serif" fill="#000" textLength="358" lengthAdjust="spacingAndGlyphs">预测值16~84分位值区间</text>
<circle cx="270.6" cy="588.5" r="6.2" fill="#00ff00" stroke="#1a1a1a" stroke-width="1"/>
<text x="312" y="598" font-size="30" font-family="Liberation Serif" fill="#000" textLength="100" lengthAdjust="spacingAndGlyphs">观测值</text>
<line x1="230" y1="631.8" x2="311" y2="631.8" stroke="#000" stroke-width="5"/>
<text x="321" y="642" font-size="30" font-family="Liberation Serif" fill="#000" textLength="238" lengthAdjust="spacingAndGlyphs">预测结果中位值</text>
<line x1="231" y1="674.8" x2="295" y2="674.8" stroke="#000" stroke-width="5" stroke-dasharray="10,17" stroke-linecap="round"/>
<text x="321" y="685" font-size="30" font-family="Liberation Serif" fill="#000" textLength="445" lengthAdjust="spacingAndGlyphs">预测结果中位值 ± 对数标准差</text>
<text x="774.8" y="604.6" font-family="Liberation Serif" font-size="52" fill="#000" textLength="418" lengthAdjust="spacingAndGlyphs">lg(<tspan font-style="italic">Y</tspan>)~<tspan font-style="italic">N</tspan>(<tspan font-style="italic">μ</tspan><tspan font-size="32">lg(<tspan font-style="italic">Y</tspan>)</tspan>, <tspan font-style="italic">σ</tspan><tspan font-size="32" dy="-22">2</tspan><tspan font-size="32" dy="22">lg(<tspan font-style="italic">Y</tspan>)</tspan>)</text>
<text x="797.7" y="776.7" font-size="40" font-family="Liberation Serif" fill="#000" textLength="150" lengthAdjust="spacingAndGlyphs">距离/km</text>
<text transform="translate(116,584) rotate(-90)" x="0" y="0" font-family="Liberation Serif" font-size="40" fill="#000" textLength="408" lengthAdjust="spacingAndGlyphs">目标地震动强度参数Y</text>
<polyline points="1754.4,32.3 1967.3,32.5 2005.6,38.7 2035.5,48.1 2078.6,65.8 2095.7,78 2134.3,118.6 2147.9,134 2165.3,163 2190.4,213.2 2219.4,273.1 2242.6,330 2260.9,378.6 2287,427.9 2331.4,511 2346.9,528.4 2387.5,572.8 2402,584.4 2416.5,590.2 2458,599.3" fill="none" stroke="#000" stroke-width="2.2" stroke-linejoin="round"/>
<polyline points="1754.4,32.3 1927,33.1 1964.5,35.9 2007.5,44.3 2036.5,57.4 2077.3,96.3 2091.8,114.7 2120.8,163 2147.9,199.7 2163.3,228.7 2190.4,296.3 2203.9,330 2218.4,362.2 2247.4,431.7 2260.9,460.7 2276.4,483.9 2317,537.1 2332.4,553.5 2387.5,589.2 2402,594 2458,599.3" fill="none" stroke="#ff0000" stroke-width="2.2" stroke-linejoin="round"/>
<polyline points="1754.4,32.3 1827.9,33.5 1867.2,36.5 1882.2,39.6 1895.3,45.3 1937.3,72.4 1953.2,90.1 1981.3,132.2 2007.5,171.5 2030,217.1 2050.5,261.3 2076.4,309.9 2106.3,377.6 2120.8,404.7 2149.8,451 2176.9,497.4 2190.4,517.7 2246.4,568 2260.9,577.6 2287,584.4 2331.4,594 2387.5,598.9 2458,599.3" fill="none" stroke="#000" stroke-width="2.2" stroke-linejoin="round"/>
<polyline points="1754.4,32.3 1829.8,34 1867.2,44.3 1880.3,54.6 1895.3,67.7 1937.3,126.6 1953.2,162.2 1979.4,223 2007.5,286.6 2019.6,319.3 2035.8,362.2 2050.3,391.2 2105.4,487.8 2120.8,510 2176.9,563.1 2190.4,575.7 2260.9,596 2320,599 2458,599.3" fill="none" stroke="#ff0000" stroke-width="2.2" stroke-linejoin="round"/>
<polyline points="1754.4,32.3 1796.1,37.8 1811.1,47.1 1826,64 1848.5,98.6 1868.1,131.3 1882.2,169.6 1895.3,207 1908.4,249.1 1930.4,300 1956.5,358 1979.7,419.9 1991.3,441.1 2030,495.5 2050.3,523.5 2105.4,569.9 2120.8,578.6 2190.4,595 2261.9,599 2458,599.3" fill="none" stroke="#000" stroke-width="2.2" stroke-linejoin="round"/>
<polyline points="1754.4,32.3 1769,34 1781.2,40.6 1796.1,50.9 1811.1,74.2 1826,106 1848.5,164 1867.2,216.4 1882.2,272.5 1894.3,319.3 1910.1,368.6 1941,441.1 1965.2,495.2 1979.7,518.4 2010.6,549.4 2039.6,568.7 2050.3,576.7 2120.8,596 2190,599 2458,599.3" fill="none" stroke="#ff0000" stroke-width="2.2" stroke-linejoin="round"/>
<polyline points="1754.4,32.3 1769,56.5 1784,90.1 1796.1,128.5 1811.1,180.9 1827,237 1845.7,319.3 1866.6,381.2 1881.1,423.7 1894.6,462.4 1910.1,497.2 1952.6,549.4 1966.2,561 1979.7,568.7 2030,587.3 2050.3,593.1 2120.8,599 2458,599.3" fill="none" stroke="#000" stroke-width="2.2" stroke-linejoin="round"/>
<polyline points="1754.4,32.3 1761.5,74.2 1770,111.7 1781.2,159.4 1794.2,207 1807.3,257.6 1821.4,319.3 1838.6,394.7 1854,441.1 1866.6,468.2 1894.6,532 1910.1,551.3 1952.6,576.4 1979.7,586.1 2039.6,596.7 2120,599 2458,599.3" fill="none" stroke="#ff0000" stroke-width="2.2" stroke-linejoin="round"/>
<polyline points="1754.4,66.9 1772,190 1791.2,300 1810.6,375.4 1827,435.3 1838.6,489.4 1856,528.1 1867.6,549.4 1894.6,572.6 1910.1,581.3 1952.6,591.9 2039.6,597.7 2458,599.3" fill="none" stroke="#000" stroke-width="2.2" stroke-linejoin="round"/>
<polyline points="1754.4,106.1 1776.7,300 1782.5,346.4 1796,392.8 1810.6,445 1825,495.2 1838.6,526.2 1854,553.2 1894.6,588 1952.6,596.7 2458,599.3" fill="none" stroke="#ff0000" stroke-width="2.2" stroke-linejoin="round"/>
<polyline points="1754.4,191.5 1765.1,300 1782.5,443 1810.6,516.5 1825,543.6 1838.6,568.7 1867.6,582.2 1894.6,593.8 1952.6,597.7 2458,599.3" fill="none" stroke="#000" stroke-width="2.2" stroke-linejoin="round"/>
<polyline points="1754.4,247.8 1759.3,300 1782.5,490.4 1810.6,549.4 1838.6,583.2 1894.6,596.7 2458,599.3" fill="none" stroke="#ff0000" stroke-width="2.2" stroke-linejoin="round"/>
<polyline points="1754.4,350.6 1769,464.3 1782.5,538.7 1838.6,590 1894.6,595.8 1972,598.7 2458,599.3" fill="none" stroke="#000" stroke-width="2.2" stroke-linejoin="round"/>
<polyline points="1754.4,389 1782.5,552.3 1838.6,594.8 1894.6,597.7 2458,599.3" fill="none" stroke="#ff0000" stroke-width="2.2" stroke-linejoin="round"/>
<rect x="1754.4" y="32.3" width="703.6" height="567.5" fill="none" stroke="#000" stroke-width="2.6"/>
<line x1="1743.4" y1="32.3" x2="1754.4" y2="32.3" stroke="#000" stroke-width="3"/>
<text x="1734" y="44.3" font-size="37" font-family="Liberation Serif" fill="#000" text-anchor="end">1.00</text>
<line x1="1748.8" y1="66.9" x2="1754.4" y2="66.9" stroke="#000" stroke-width="3"/>
<text x="1734" y="78.9" font-size="37" font-family="Liberation Serif" fill="#000" text-anchor="end">0.94</text>
<line x1="1748.8" y1="106.1" x2="1754.4" y2="106.1" stroke="#000" stroke-width="3"/>
<text x="1734" y="118.1" font-size="37" font-family="Liberation Serif" fill="#000" text-anchor="end">0.87</text>
<line x1="1748.8" y1="191.5" x2="1754.4" y2="191.5" stroke="#000" stroke-width="3"/>
<text x="1734" y="203.5" font-size="37" font-family="Liberation Serif" fill="#000" text-anchor="end">0.72</text>
<line x1="1748.8" y1="247.8" x2="1754.4" y2="247.8" stroke="#000" stroke-width="3"/>
<text x="1734" y="259.8" font-size="37" font-family="Liberation Serif" fill="#000" text-anchor="end">0.62</text>
<line x1="1743.4" y1="316" x2="1754.4" y2="316" stroke="#000" stroke-width="3"/>
<text x="1734" y="328" font-size="37" font-family="Liberation Serif" fill="#000" text-anchor="end">0.50</text>
<line x1="1748.8" y1="350.6" x2="1754.4" y2="350.6" stroke="#000" stroke-width="3"/>
<text x="1734" y="362.6" font-size="37" font-family="Liberation Serif" fill="#000" text-anchor="end">0.44</text>
<line x1="1748.8" y1="389" x2="1754.4" y2="389" stroke="#000" stroke-width="3"/>
<text x="1734" y="401" font-size="37" font-family="Liberation Serif" fill="#000" text-anchor="end">0.37</text>
<line x1="1743.4" y1="599.8" x2="1754.4" y2="599.8" stroke="#000" stroke-width="3"/>
<text x="1734" y="611.8" font-size="37" font-family="Liberation Serif" fill="#000" text-anchor="end">0.0</text>
<line x1="1895.1" y1="599.8" x2="1895.1" y2="611" stroke="#000" stroke-width="3"/>
<text x="1895.1" y="646" font-size="37" font-family="Liberation Serif" fill="#000" text-anchor="middle">0.2</text>
<line x1="2035.8" y1="599.8" x2="2035.8" y2="611" stroke="#000" stroke-width="3"/>
<text x="2035.8" y="646" font-size="37" font-family="Liberation Serif" fill="#000" text-anchor="middle">0.4</text>
<line x1="2176.6" y1="599.8" x2="2176.6" y2="611" stroke="#000" stroke-width="3"/>
<text x="2176.6" y="646" font-size="37" font-family="Liberation Serif" fill="#000" text-anchor="middle">0.6</text>
<line x1="2317.3" y1="599.8" x2="2317.3" y2="611" stroke="#000" stroke-width="3"/>
<text x="2317.3" y="646" font-size="37" font-family="Liberation Serif" fill="#000" text-anchor="middle">0.8</text>
<line x1="2458" y1="599.8" x2="2458" y2="611" stroke="#000" stroke-width="3"/>
<text x="2458" y="646" font-size="37" font-family="Liberation Serif" fill="#000" text-anchor="middle">1.0</text>
<text x="2159" y="156.9" font-size="31" font-family="Liberation Serif" fill="#000" textLength="78" lengthAdjust="spacingAndGlyphs">Ms8.0</text>
<text x="2046" y="250.5" font-size="31" font-family="Liberation Serif" fill="#000" textLength="78" lengthAdjust="spacingAndGlyphs">Ms7.5</text>
<text x="1958.3" y="364.5" font-size="31" font-family="Liberation Serif" fill="#000" textLength="78" lengthAdjust="spacingAndGlyphs">Ms7.0</text>
<text x="1879" y="429" font-size="31" font-family="Liberation Serif" fill="#000" textLength="78" lengthAdjust="spacingAndGlyphs">Ms6.5</text>
<text x="1826" y="491.4" font-size="31" font-family="Liberation Serif" fill="#000" textLength="78" lengthAdjust="spacingAndGlyphs">Ms6.0</text>
<text x="1784.4" y="543.5" font-size="31" font-family="Liberation Serif" fill="#000" textLength="78" lengthAdjust="spacingAndGlyphs">Ms5.5</text>
<text x="1759" y="590.6" font-size="31" font-family="Liberation Serif" fill="#000" textLength="78" lengthAdjust="spacingAndGlyphs">Ms5.0</text>
<rect x="2187.1" y="46.5" width="260.3" height="63" fill="#fff" stroke="#000" stroke-width="1.5"/>
<line x1="2190.4" y1="63.5" x2="2244.5" y2="63.5" stroke="#000" stroke-width="2"/>
<line x1="2190.4" y1="92.9" x2="2244.5" y2="92.9" stroke="#ff0000" stroke-width="2"/>
<text x="2259" y="74" font-size="26" font-family="Liberation Serif" fill="#000" textLength="157" lengthAdjust="spacingAndGlyphs">考虑不确定性</text>
<text x="2259" y="103" font-size="26" font-family="Liberation Serif" fill="#000" textLength="183" lengthAdjust="spacingAndGlyphs">不考虑不确定性</text>
<text x="2106" y="706" font-family="Liberation Serif" font-size="40" font-style="italic" text-anchor="middle">C<tspan font-size="26" font-style="normal" dy="8">L</tspan></text>
<text transform="translate(1628,313.7) rotate(-90)" font-family="Liberation Serif" font-size="36" text-anchor="middle" textLength="130" lengthAdjust="spacingAndGlyphs"><tspan font-style="italic">P</tspan>(<tspan font-style="italic">C</tspan><tspan font-size="24" dy="6">L</tspan><tspan dy="-6">&gt;</tspan><tspan font-style="italic">c</tspan><tspan font-size="24" dy="6">l</tspan><tspan dy="-6">)</tspan></text>
<polyline points="2722.7,598 3124.5,598.5" fill="none" stroke="#000" stroke-width="5" stroke-dasharray="12,9"/>
<polyline points="2722.7,598 3225,598.5" fill="none" stroke="#ff0000" stroke-width="4" stroke-dasharray="12,9"/>
<polyline points="2722.7,591.7 2726.7,591.7 2730.8,591.7 2734.8,591.7 2738.9,591.7 2742.9,591.7 2747,591.7 2751,591.7 2755.1,591.7 2759.1,591.7 2763.2,591.7 2767.2,591.7 2771.3,591.7 2775.3,591.7 2779.3,591.7 2783.4,591.7 2787.4,591.7 2791.5,591.7 2795.5,591.7 2799.6,591.7 2803.6,591.7 2807.7,591.7 2811.7,591.7 2815.8,591.7 2819.8,591.7 2823.9,591.7 2827.9,591.7 2832,591.7 2836,591.7 2840,591.7 2844.1,591.7 2848.1,591.7 2852.2,591.6 2856.2,591.6 2860.3,591.5 2864.3,591.5 2868.4,591.4 2872.4,591.3 2876.5,591.2 2880.5,591 2884.6,590.8 2888.6,590.6 2892.6,590.3 2896.7,589.9 2900.7,589.4 2904.8,588.9 2908.8,588.3 2912.9,587.6 2916.9,586.7 2921,585.7 2925,584.5 2929.1,583.2 2933.1,581.6 2937.2,579.9 2941.2,577.9 2945.2,575.7 2949.3,573.3 2953.3,570.5 2957.4,567.5 2961.4,564.1 2965.5,560.4 2969.5,556.4 2973.6,552 2977.6,547.3 2981.7,542.2 2985.7,536.7 2989.8,530.8 2993.8,524.6 2997.8,518 3001.9,511 3005.9,503.6 3010,495.9 3014,487.8 3018.1,479.4 3022.1,470.7 3026.2,461.6 3030.2,452.3 3034.3,442.8 3038.3,433 3042.4,422.9 3046.4,412.7 3050.5,402.3 3054.5,391.8 3058.5,381.2 3062.6,370.5 3066.6,359.8 3070.7,349 3074.7,338.2 3078.8,327.5 3082.8,316.8 3086.9,306.2 3090.9,295.7 3095,285.4 3099,275.1 3103.1,265.1 3107.1,255.2 3111.1,245.6 3115.2,236.1 3119.2,226.9 3123.3,218 3127.3,209.3 3131.4,200.8 3135.4,192.7 3139.5,184.8 3143.5,177.2 3147.6,169.9 3151.6,162.8 3155.7,156.1 3159.7,149.6 3163.7,143.4 3167.8,137.5 3171.8,131.9 3175.9,126.5 3179.9,121.5 3184,116.6 3188,112.1 3192.1,107.7 3196.1,103.6 3200.2,99.8 3204.2,96.1 3208.3,92.7 3212.3,89.5 3216.3,86.5 3220.4,83.7 3224.4,81 3228.5,78.5 3232.5,76.2 3236.6,74 3240.6,72 3244.7,70.2 3248.7,68.4 3252.8,66.8 3256.8,65.3 3260.9,63.9 3264.9,62.6 3269,61.4 3273,60.3 3277,59.3 3281.1,58.4 3285.1,57.5 3289.2,56.7 3293.2,56 3297.3,55.3 3301.3,54.7 3305.4,54.1 3309.4,53.6 3313.5,53.1 3317.5,52.7 3321.6,52.3 3325.6,51.9" fill="none" stroke="#000" stroke-width="5.5"/>
<polyline points="2722.7,595.9 2726.7,595.9 2730.8,595.9 2734.8,595.9 2738.9,595.9 2742.9,595.9 2747,595.9 2751,595.9 2755.1,595.9 2759.1,595.9 2763.2,595.9 2767.2,595.9 2771.3,595.9 2775.3,595.9 2779.3,595.9 2783.4,595.9 2787.4,595.9 2791.5,595.9 2795.5,595.9 2799.6,595.9 2803.6,595.9 2807.7,595.8 2811.7,595.8 2815.8,595.8 2819.8,595.8 2823.9,595.8 2827.9,595.8 2832,595.8 2836,595.7 2840,595.7 2844.1,595.7 2848.1,595.6 2852.2,595.6 2856.2,595.5 2860.3,595.4 2864.3,595.3 2868.4,595.3 2872.4,595.1 2876.5,595 2880.5,594.9 2884.6,594.7 2888.6,594.5 2892.6,594.3 2896.7,594 2900.7,593.7 2904.8,593.4 2908.8,593 2912.9,592.5 2916.9,592 2921,591.5 2925,590.8 2929.1,590.1 2933.1,589.3 2937.2,588.5 2941.2,587.5 2945.2,586.4 2949.3,585.2 2953.3,583.8 2957.4,582.3 2961.4,580.7 2965.5,578.9 2969.5,576.9 2973.6,574.7 2977.6,572.4 2981.7,569.8 2985.7,567 2989.8,564 2993.8,560.8 2997.8,557.3 3001.9,553.5 3005.9,549.5 3010,545.1 3014,540.5 3018.1,535.6 3022.1,530.4 3026.2,524.9 3030.2,519 3034.3,512.8 3038.3,506.3 3042.4,499.5 3046.4,492.4 3050.5,485 3054.5,477.2 3058.5,469.1 3062.6,460.8 3066.6,452.1 3070.7,443.2 3074.7,434 3078.8,424.6 3082.8,414.9 3086.9,405 3090.9,395 3095,384.7 3099,374.3 3103.1,363.8 3107.1,353.2 3111.1,342.5 3115.2,331.7 3119.2,321 3123.3,310.2 3127.3,299.4 3131.4,288.7 3135.4,278.1 3139.5,267.6 3143.5,257.2 3147.6,247 3151.6,236.9 3155.7,227 3159.7,217.4 3163.7,207.9 3167.8,198.7 3171.8,189.8 3175.9,181.1 3179.9,172.8 3184,164.7 3188,156.9 3192.1,149.5 3196.1,142.4 3200.2,135.6 3204.2,129.1 3208.3,122.9 3212.3,117 3216.3,111.5 3220.4,106.3 3224.4,101.4 3228.5,96.7 3232.5,92.4 3236.6,88.4 3240.6,84.6 3244.7,81.1 3248.7,77.8 3252.8,74.8 3256.8,72 3260.9,69.5 3264.9,67.1 3269,64.9 3273,63 3277,61.2 3281.1,59.5 3285.1,58 3289.2,56.7 3293.2,55.5 3297.3,54.4 3301.3,53.4 3305.4,52.5 3309.4,51.7 3313.5,51 3317.5,50.4 3321.6,49.8 3325.6,49.3" fill="none" stroke="#ff0000" stroke-width="5.5"/>
<polyline points="2996,598.8 2998.8,598.8 3001.5,598.8 3004.3,598.7 3007,598.7 3009.8,598.6 3012.6,598.6 3015.3,598.5 3018.1,598.4 3020.8,598.3 3023.6,598.1 3026.4,598 3029.1,597.8 3031.9,597.7 3034.6,597.5 3037.4,597.3 3040.2,597.1 3042.9,596.9 3045.7,596.7 3048.4,596.4 3051.2,596.1 3054,595.9 3056.7,595.6 3059.5,595.3 3062.3,595 3065,594.6 3067.8,594.3 3070.5,593.9 3073.3,593.6 3076.1,593.2 3078.8,592.8 3081.6,592.4 3084.3,591.9 3087.1,591.1 3089.9,590.1 3092.6,588.7 3095.4,587.2 3098.1,585.5 3100.9,583.8 3103.7,582.1 3106.4,580.5 3109.2,578.9 3111.9,577.4 3114.7,575.8 3117.5,574.1 3120.2,572.2 3123,570.2 3125.7,568.1 3128.5,565.7 3131.3,563.1 3134,560.3 3136.8,557.4 3139.5,554.3 3142.3,551 3145.1,547.7 3147.8,544.2 3150.6,540.5 3153.3,536.8 3156.1,533.1 3158.9,529.2 3161.6,525.1 3164.4,520.7 3167.2,516 3169.9,511 3172.7,505.9 3175.4,500.3 3178.2,494.4 3181,488.2 3183.7,481.7 3186.5,475.1 3189.2,468.3 3192,461.6 3194.8,454.9 3197.5,448 3200.3,441 3203,433.9 3205.8,426.8 3208.6,419.7 3211.3,412.6 3214.1,405.7 3216.8,399 3219.6,392.2 3222.4,385.4 3225.1,378.2 3227.9,370.5 3230.6,362.6 3233.4,354.4 3236.2,346 3238.9,337.5 3241.7,328.9 3244.4,320.4 3247.2,311.9 3250,303.6 3252.7,295.2 3255.5,286.8 3258.2,278.4 3261,270.1 3263.8,262 3266.5,254 3269.3,246.1 3272.1,238.2 3274.8,230.4 3277.6,222.7 3280.3,215.1 3283.1,207.6 3285.9,200.3 3288.6,193.1 3291.4,186 3294.1,179.2 3296.9,172.5 3299.7,165.9 3302.4,159.5 3305.2,153.2 3307.9,147 3310.7,140.8 3313.5,134.7 3316.2,128.8 3319,122.9 3321.7,117.1 3324.5,111.4" fill="none" stroke="#000" stroke-width="5.5" stroke-dasharray="25,23"/>
<polyline points="3060,598.8 3062.2,598.8 3064.4,598.7 3066.7,598.6 3068.9,598.5 3071.1,598.4 3073.3,598.3 3075.6,598.1 3077.8,598 3080,597.8 3082.2,597.6 3084.4,597.5 3086.7,597.3 3088.9,597.1 3091.1,596.9 3093.3,596.7 3095.6,596.4 3097.8,596.2 3100,595.9 3102.2,595.6 3104.5,595.3 3106.7,595 3108.9,594.7 3111.1,594.3 3113.3,593.9 3115.6,593.5 3117.8,593.1 3120,592.7 3122.2,592.2 3124.5,591.7 3126.7,591.2 3128.9,590.7 3131.1,590.1 3133.3,589.6 3135.6,589 3137.8,588.3 3140,587.6 3142.2,586.7 3144.5,585.8 3146.7,584.8 3148.9,583.6 3151.1,582.5 3153.4,581.2 3155.6,579.9 3157.8,578.6 3160,577.2 3162.2,575.8 3164.5,574.4 3166.7,572.9 3168.9,571.2 3171.1,569.5 3173.4,567.7 3175.6,565.8 3177.8,563.7 3180,561.6 3182.2,559.3 3184.5,556.8 3186.7,554.2 3188.9,551.3 3191.1,548.3 3193.4,545.1 3195.6,541.7 3197.8,538.2 3200,534.6 3202.3,530.8 3204.5,527 3206.7,523 3208.9,518.9 3211.1,514.8 3213.4,510.5 3215.6,506 3217.8,501.1 3220,495.9 3222.3,490.6 3224.5,485.2 3226.7,479.7 3228.9,474.1 3231.1,468.7 3233.4,463.3 3235.6,458 3237.8,452.7 3240,447.3 3242.3,441.9 3244.5,436.4 3246.7,430.7 3248.9,424.9 3251.2,418.8 3253.4,412.5 3255.6,406 3257.8,399.2 3260,392.3 3262.3,385 3264.5,377.6 3266.7,369.8 3268.9,361.8 3271.2,352.9 3273.4,343.5 3275.6,333.8 3277.8,324.4 3280,315.7 3282.3,307.6 3284.5,300 3286.7,292.6 3288.9,285.3 3291.2,277.8 3293.4,270.1 3295.6,262 3297.8,253.3 3300.1,244.4 3302.3,235.3 3304.5,226.1 3306.7,217.2 3308.9,208.6 3311.2,200.1 3313.4,191.7 3315.6,183.3 3317.8,175.1 3320.1,167 3322.3,158.9 3324.5,151" fill="none" stroke="#ff0000" stroke-width="5.5" stroke-dasharray="25,23"/>
<polyline points="3124.5,598.8 3126.2,598.8 3127.9,598.8 3129.5,598.8 3131.2,598.8 3132.9,598.8 3134.6,598.8 3136.3,598.8 3137.9,598.8 3139.6,598.8 3141.3,598.8 3143,598.8 3144.7,598.8 3146.3,598.8 3148,598.8 3149.7,598.8 3151.4,598.8 3153.1,598.8 3154.8,598.8 3156.4,598.8 3158.1,598.8 3159.8,598.8 3161.5,598.8 3163.2,598.8 3164.8,598.7 3166.5,598.7 3168.2,598.7 3169.9,598.7 3171.6,598.7 3173.2,598.7 3174.9,598.7 3176.6,598.7 3178.3,598.7 3180,598.7 3181.6,598.7 3183.3,598.6 3185,598.5 3186.7,598.4 3188.4,598.3 3190,598.2 3191.7,598 3193.4,597.9 3195.1,597.7 3196.8,597.5 3198.4,597.3 3200.1,597 3201.8,596.8 3203.5,596.5 3205.2,596.2 3206.9,595.9 3208.5,595.6 3210.2,595.3 3211.9,595 3213.6,594.7 3215.3,594.3 3216.9,594 3218.6,593.6 3220.3,593.2 3222,592.9 3223.7,592.5 3225.3,592.1 3227,591.7 3228.7,591.2 3230.4,590.7 3232.1,590.1 3233.7,589.5 3235.4,588.8 3237.1,588 3238.8,587.2 3240.5,586.4 3242.1,585.5 3243.8,584.6 3245.5,583.7 3247.2,582.7 3248.9,581.7 3250.6,580.7 3252.2,579.6 3253.9,578.5 3255.6,577.5 3257.3,576.3 3259,575.2 3260.6,574 3262.3,572.8 3264,571.5 3265.7,570.1 3267.4,568.6 3269,567.1 3270.7,565.6 3272.4,563.9 3274.1,562.3 3275.8,560.6 3277.4,558.8 3279.1,557 3280.8,555.1 3282.5,553.2 3284.2,551.3 3285.8,549.4 3287.5,547.4 3289.2,545.4 3290.9,543.3 3292.6,541.3 3294.2,539.1 3295.9,536.9 3297.6,534.5 3299.3,532.1 3301,529.6 3302.7,527.1 3304.3,524.4 3306,521.7 3307.7,518.9 3309.4,516.1 3311.1,513.2 3312.7,510.3 3314.4,507.2 3316.1,503.9 3317.8,500.6 3319.5,497.2 3321.1,493.7 3322.8,490.1 3324.5,486.4" fill="none" stroke="#000" stroke-width="5.5" stroke-dasharray="12,9"/>
<polyline points="3200,598.8 3201,598.8 3202.1,598.8 3203.1,598.8 3204.2,598.8 3205.2,598.8 3206.3,598.8 3207.3,598.8 3208.4,598.8 3209.4,598.8 3210.5,598.8 3211.5,598.8 3212.6,598.8 3213.6,598.8 3214.6,598.8 3215.7,598.8 3216.7,598.8 3217.8,598.8 3218.8,598.8 3219.9,598.8 3220.9,598.8 3222,598.8 3223,598.8 3224.1,598.8 3225.1,598.8 3226.2,598.8 3227.2,598.8 3228.2,598.7 3229.3,598.7 3230.3,598.7 3231.4,598.7 3232.4,598.7 3233.5,598.7 3234.5,598.7 3235.6,598.7 3236.6,598.7 3237.7,598.7 3238.7,598.7 3239.8,598.7 3240.8,598.6 3241.8,598.5 3242.9,598.4 3243.9,598.3 3245,598.1 3246,597.9 3247.1,597.7 3248.1,597.5 3249.2,597.2 3250.2,596.9 3251.3,596.6 3252.3,596.3 3253.4,596 3254.4,595.7 3255.4,595.3 3256.5,595 3257.5,594.7 3258.6,594.3 3259.6,593.9 3260.7,593.6 3261.7,593.2 3262.8,592.9 3263.8,592.5 3264.9,592.1 3265.9,591.8 3267,591.4 3268,591 3269.1,590.7 3270.1,590.3 3271.1,589.8 3272.2,589.4 3273.2,589 3274.3,588.5 3275.3,588 3276.4,587.5 3277.4,587 3278.5,586.5 3279.5,586 3280.6,585.5 3281.6,584.9 3282.7,584.3 3283.7,583.7 3284.7,583.1 3285.8,582.5 3286.8,581.9 3287.9,581.3 3288.9,580.6 3290,579.9 3291,579.2 3292.1,578.5 3293.1,577.8 3294.2,577 3295.2,576.2 3296.3,575.3 3297.3,574.4 3298.3,573.5 3299.4,572.5 3300.4,571.5 3301.5,570.5 3302.5,569.4 3303.6,568.3 3304.6,567.1 3305.7,566 3306.7,564.8 3307.8,563.5 3308.8,562.2 3309.9,560.9 3310.9,559.6 3311.9,558.2 3313,556.8 3314,555.2 3315.1,553.6 3316.1,551.9 3317.2,550.1 3318.2,548.2 3319.3,546.3 3320.3,544.3 3321.4,542.3 3322.4,540.2 3323.5,538.1 3324.5,536" fill="none" stroke="#ff0000" stroke-width="5.5" stroke-dasharray="12,9"/>
<circle cx="2923.4" cy="570.7" r="6" fill="#00ff00" stroke="#222" stroke-width="1"/>
<circle cx="3023.9" cy="466" r="6" fill="#00ff00" stroke="#222" stroke-width="1"/>
<circle cx="3124.6" cy="213.8" r="6" fill="#00ff00" stroke="#222" stroke-width="1"/>
<circle cx="3225.5" cy="69.2" r="6" fill="#00ff00" stroke="#222" stroke-width="1"/>
<circle cx="3324.5" cy="109.7" r="6" fill="#00ff00" stroke="#222" stroke-width="1"/>
<circle cx="3023.9" cy="596.5" r="6" fill="#00ff00" stroke="#222" stroke-width="1"/>
<circle cx="3124.6" cy="568.3" r="6" fill="#00ff00" stroke="#222" stroke-width="1"/>
<circle cx="3225.4" cy="375" r="6" fill="#00ff00" stroke="#222" stroke-width="1"/>
<circle cx="3324.5" cy="483.1" r="6" fill="#00ff00" stroke="#222" stroke-width="1"/>
<circle cx="3225.4" cy="589.5" r="6" fill="#00ff00" stroke="#222" stroke-width="1"/>
<circle cx="2722.7" cy="598.8" r="6" fill="#0000ff" stroke="#222" stroke-width="1"/>
<circle cx="2923.4" cy="585.9" r="6" fill="#0000ff" stroke="#222" stroke-width="1"/>
<circle cx="3023.9" cy="527.3" r="6" fill="#0000ff" stroke="#222" stroke-width="1"/>
<circle cx="3124.6" cy="319.5" r="6" fill="#0000ff" stroke="#222" stroke-width="1"/>
<circle cx="3225.4" cy="88.3" r="6" fill="#0000ff" stroke="#222" stroke-width="1"/>
<circle cx="3325.6" cy="59" r="6" fill="#0000ff" stroke="#222" stroke-width="1"/>
<circle cx="3324.5" cy="150.4" r="6" fill="#0000ff" stroke="#222" stroke-width="1"/>
<circle cx="3124.6" cy="592.1" r="6" fill="#0000ff" stroke="#222" stroke-width="1"/>
<circle cx="3225.4" cy="483.7" r="6" fill="#0000ff" stroke="#222" stroke-width="1"/>
<circle cx="3324.5" cy="535.3" r="6" fill="#0000ff" stroke="#222" stroke-width="1"/>
<circle cx="2923.4" cy="598.8" r="6" fill="#0000ff" stroke="#222" stroke-width="1"/>
<circle cx="3023.9" cy="598.8" r="6" fill="#0000ff" stroke="#222" stroke-width="1"/>
<circle cx="3124.5" cy="598.8" r="6" fill="#0000ff" stroke="#222" stroke-width="1"/>
<circle cx="3225.4" cy="597" r="6" fill="#0000ff" stroke="#222" stroke-width="1"/>
<rect x="2672.9" y="32.3" width="703" height="566.5" fill="none" stroke="#000" stroke-width="2.6"/>
<line x1="2662" y1="598.8" x2="2672.9" y2="598.8" stroke="#000" stroke-width="3"/>
<text x="2652" y="610.3" font-size="35" font-family="Liberation Serif" fill="#000" text-anchor="end">0.0</text>
<line x1="2662" y1="490.8" x2="2672.9" y2="490.8" stroke="#000" stroke-width="3"/>
<text x="2652" y="502.3" font-size="35" font-family="Liberation Serif" fill="#000" text-anchor="end">0.2</text>
<line x1="2662" y1="382.9" x2="2672.9" y2="382.9" stroke="#000" stroke-width="3"/>
<text x="2652" y="394.4" font-size="35" font-family="Liberation Serif" fill="#000" text-anchor="end">0.4</text>
<line x1="2662" y1="274.9" x2="2672.9" y2="274.9" stroke="#000" stroke-width="3"/>
<text x="2652" y="286.4" font-size="35" font-family="Liberation Serif" fill="#000" text-anchor="end">0.6</text>
<line x1="2662" y1="167" x2="2672.9" y2="167" stroke="#000" stroke-width="3"/>
<text x="2652" y="178.5" font-size="35" font-family="Liberation Serif" fill="#000" text-anchor="end">0.8</text>
<line x1="2662" y1="59" x2="2672.9" y2="59" stroke="#000" stroke-width="3"/>
<text x="2652" y="70.5" font-size="35" font-family="Liberation Serif" fill="#000" text-anchor="end">1.0</text>
<line x1="2722.7" y1="598.8" x2="2722.7" y2="610" stroke="#000" stroke-width="3"/>
<text x="2722.7" y="646" font-size="35" font-family="Liberation Serif" fill="#000" text-anchor="middle">5.0</text>
<line x1="2823.2" y1="598.8" x2="2823.2" y2="610" stroke="#000" stroke-width="3"/>
<text x="2823.2" y="646" font-size="35" font-family="Liberation Serif" fill="#000" text-anchor="middle">5.5</text>
<line x1="2923.7" y1="598.8" x2="2923.7" y2="610" stroke="#000" stroke-width="3"/>
<text x="2923.7" y="646" font-size="35" font-family="Liberation Serif" fill="#000" text-anchor="middle">6.0</text>
<line x1="3024.2" y1="598.8" x2="3024.2" y2="610" stroke="#000" stroke-width="3"/>
<text x="3024.2" y="646" font-size="35" font-family="Liberation Serif" fill="#000" text-anchor="middle">6.5</text>
<line x1="3124.6" y1="598.8" x2="3124.6" y2="610" stroke="#000" stroke-width="3"/>
<text x="3124.6" y="646" font-size="35" font-family="Liberation Serif" fill="#000" text-anchor="middle">7.0</text>
<line x1="3225.1" y1="598.8" x2="3225.1" y2="610" stroke="#000" stroke-width="3"/>
<text x="3225.1" y="646" font-size="35" font-family="Liberation Serif" fill="#000" text-anchor="middle">7.5</text>
<line x1="3325.6" y1="598.8" x2="3325.6" y2="610" stroke="#000" stroke-width="3"/>
<text x="3325.6" y="646" font-size="35" font-family="Liberation Serif" fill="#000" text-anchor="middle">8.0</text>
<text x="3024.4" y="706" font-size="36" font-family="Liberation Serif" fill="#000" text-anchor="middle" textLength="72" lengthAdjust="spacingAndGlyphs">震级</text>
<text transform="translate(2596,317) rotate(-90)" font-family="Liberation Serif" font-size="36" text-anchor="middle" textLength="145" lengthAdjust="spacingAndGlyphs">超越概率</text>
<rect x="2681.6" y="37.8" width="419.8" height="179.9" fill="#fff" stroke="#666" stroke-width="1.5"/>
<line x1="2685.6" y1="54.4" x2="2738.2" y2="54.4" stroke="#000" stroke-width="5" stroke-linecap="round" stroke-dasharray="none"/>
<text x="2753" y="63.4" font-size="26" font-family="Liberation Serif" fill="#000" textLength="288" lengthAdjust="spacingAndGlyphs">轻微破坏（考虑不确定性）</text>
<line x1="2685.6" y1="84" x2="2738.2" y2="84" stroke="#ff0000" stroke-width="5" stroke-linecap="round" stroke-dasharray="none"/>
<text x="2753" y="93" font-size="26" font-family="Liberation Serif" fill="#000" textLength="312" lengthAdjust="spacingAndGlyphs">轻微破坏（不考虑不确定性）</text>
<line x1="2685.6" y1="113" x2="2738.2" y2="113" stroke="#000" stroke-width="5" stroke-linecap="round" stroke-dasharray="21.5,30.8,0.01,100"/>
<text x="2753" y="122" font-size="26" font-family="Liberation Serif" fill="#000" textLength="288" lengthAdjust="spacingAndGlyphs">中等破坏（考虑不确定性）</text>
<line x1="2685.6" y1="142.1" x2="2738.2" y2="142.1" stroke="#ff0000" stroke-width="5" stroke-linecap="round" stroke-dasharray="21.5,30.8,0.01,100"/>
<text x="2753" y="151.1" font-size="26" font-family="Liberation Serif" fill="#000" textLength="312" lengthAdjust="spacingAndGlyphs">中等破坏（不考虑不确定性）</text>
<line x1="2685.6" y1="171.6" x2="2738.2" y2="171.6" stroke="#000" stroke-width="5" stroke-linecap="round" stroke-dasharray="7.7,15.9"/>
<text x="2753" y="180.6" font-size="26" font-family="Liberation Serif" fill="#000" textLength="288" lengthAdjust="spacingAndGlyphs">严重破坏（考虑不确定性）</text>
<line x1="2685.6" y1="201.1" x2="2738.2" y2="201.1" stroke="#ff0000" stroke-width="5" stroke-linecap="round" stroke-dasharray="7.7,15.9"/>
<text x="2753" y="210.1" font-size="26" font-family="Liberation Serif" fill="#000" textLength="312" lengthAdjust="spacingAndGlyphs">严重破坏（不考虑不确定性）</text>
<text x="1724.3" y="806" font-size="62" font-family="Liberation Serif" fill="#000" textLength="720.4" lengthAdjust="spacingAndGlyphs">(a) 连通性指标超越概率曲线</text>
<text x="2519" y="806" font-size="62" font-family="Liberation Serif" fill="#000" textLength="964.5" lengthAdjust="spacingAndGlyphs">(b) 该市燃气管网地震连通易损性曲线</text>
<polygon points="833.6,834.8 904.6,834.8 904.6,1057.6 938.8,1057.6 867.8,1213.5 797.6,1057.6 833.6,1057.6" fill="#fdd66b" stroke="#333" stroke-width="1.2"/>
<text transform="translate(865.3,1025) rotate(-90)" font-family="Liberation Serif" font-size="58" font-weight="bold" text-anchor="middle" dy="20" textLength="290" lengthAdjust="spacingAndGlyphs">地震动输入</text>
<polygon points="2482.8,834.8 2554.2,990 2519.1,990 2519.1,1210.4 2447.8,1210.4 2447.8,990 2412.5,990" fill="#fdd66b" stroke="#333" stroke-width="1.2"/>
<text transform="translate(2480,1021) rotate(-90)" font-family="Liberation Serif" font-size="58" font-weight="bold" text-anchor="middle" dy="20" textLength="285" lengthAdjust="spacingAndGlyphs">易损性评估</text>
<polygon points="1256.2,1871.7 1660.7,1871.7 1660.7,1837 1816.2,1907.5 1660.7,1978.1 1660.7,1942.8 1256.2,1942.8" fill="#fdd66b" stroke="#333" stroke-width="1.2"/>
<text x="1315" y="1927" font-size="58" font-family="Liberation Serif" fill="#000" font-weight="bold" textLength="440" lengthAdjust="spacingAndGlyphs">Monte-Carlo模拟</text>
<line x1="474" y1="1331.4" x2="474" y2="1412.5" stroke="#333333" stroke-width="6"/>
<polygon points="474,1432.5 462.5,1410.5 485.5,1410.5" fill="#333333"/>
<line x1="486.2" y1="1320" x2="557.9" y2="1363.9" stroke="#333333" stroke-width="6"/>
<polygon points="575,1374.3 550.2,1372.6 562.2,1353" fill="#333333"/>
<line x1="601.2" y1="1375.7" x2="656.2" y2="1337.6" stroke="#333333" stroke-width="6"/>
<polygon points="672.6,1326.2 661.1,1348.2 648,1329.3" fill="#333333"/>
<line x1="593.2" y1="1391.7" x2="598.1" y2="1411.3" stroke="#333333" stroke-width="6"/>
<polygon points="603,1430.7 586.5,1412.2 608.8,1406.6" fill="#333333"/>
<line x1="686.6" y1="1328" x2="717.5" y2="1434.2" stroke="#333333" stroke-width="6"/>
<polygon points="723.1,1453.4 705.9,1435.5 728,1429.1" fill="#333333"/>
<line x1="488.6" y1="1452.3" x2="569" y2="1448.1" stroke="#333333" stroke-width="6"/>
<polygon points="589,1447.1 567.6,1459.7 566.4,1436.8" fill="#333333"/>
<line x1="620.3" y1="1449.2" x2="689.5" y2="1462" stroke="#333333" stroke-width="6"/>
<polygon points="709.2,1465.6 685.5,1472.9 689.7,1450.3" fill="#333333"/>
<ellipse cx="541" cy="1451" rx="60" ry="15" transform="rotate(-2 541 1451)" fill="none" stroke="#ff0000" stroke-width="2.5" stroke-dasharray="7,5"/>
<circle cx="473" cy="1453.4" r="14" fill="none" stroke="#ff0000" stroke-width="2.5" stroke-dasharray="7,5"/>
<circle cx="473" cy="1314.7" r="8.8" fill="#5b9bd5" stroke="#41719c" stroke-width="1"/>
<circle cx="683.1" cy="1314.7" r="8.8" fill="#5b9bd5" stroke="#41719c" stroke-width="1"/>
<circle cx="590" cy="1379.5" r="8.8" fill="#5b9bd5" stroke="#41719c" stroke-width="1"/>
<circle cx="473" cy="1453.4" r="8.8" fill="#5b9bd5" stroke="#41719c" stroke-width="1"/>
<circle cx="609.9" cy="1446.4" r="8.8" fill="#5b9bd5" stroke="#41719c" stroke-width="1"/>
<circle cx="723.8" cy="1468" r="8.5" fill="#5b9bd5" stroke="#222" stroke-width="2.5"/>
<text x="547" y="1322" font-size="22" font-family="Liberation Sans" fill="#000" textLength="85" lengthAdjust="spacingAndGlyphs">单元水平</text>
<ellipse cx="1016.2" cy="1381.6" rx="179" ry="98" fill="#ffff00" stroke="#555" stroke-width="1"/>
<line x1="912" y1="1333.2" x2="912" y2="1414.7" stroke="#808080" stroke-width="5"/>
<polygon points="912,1430.7 903,1412.7 921,1412.7" fill="#808080"/>
<line x1="923.5" y1="1323.8" x2="987.9" y2="1351.9" stroke="#808080" stroke-width="5"/>
<polygon points="1002.6,1358.3 982.5,1359.4 989.7,1342.9" fill="#808080"/>
<line x1="1021" y1="1356.9" x2="1066.8" y2="1333.5" stroke="#808080" stroke-width="5"/>
<polygon points="1081,1326.2 1069.1,1342.4 1060.9,1326.4" fill="#808080"/>
<line x1="1007" y1="1373.2" x2="1020.6" y2="1408.9" stroke="#808080" stroke-width="5"/>
<polygon points="1026.3,1423.8 1011.5,1410.2 1028.3,1403.8" fill="#808080"/>
<line x1="1090.7" y1="1334.9" x2="1116.1" y2="1427.5" stroke="#808080" stroke-width="5"/>
<polygon points="1120.3,1442.9 1106.9,1427.9 1124.2,1423.2" fill="#808080"/>
<line x1="923.5" y1="1438.4" x2="1001.6" y2="1432.6" stroke="#808080" stroke-width="5"/>
<polygon points="1017.6,1431.4 1000.3,1441.7 999,1423.8" fill="#808080"/>
<line x1="1038.5" y1="1431.4" x2="1097.8" y2="1444.7" stroke="#808080" stroke-width="5"/>
<polygon points="1113.4,1448.2 1093.9,1453 1097.8,1435.5" fill="#808080"/>
<circle cx="911.3" cy="1321" r="7" fill="#808080"/>
<circle cx="1087.2" cy="1321" r="7" fill="#808080"/>
<circle cx="1008.9" cy="1362.8" r="7" fill="#808080"/>
<circle cx="911.3" cy="1437" r="7" fill="#808080"/>
<circle cx="1026.3" cy="1430.7" r="7" fill="#808080"/>
<circle cx="1122.1" cy="1448.9" r="7" fill="#808080"/>
<text x="968.8" y="1316" font-size="22" font-family="Liberation Sans" fill="#000" textLength="87" lengthAdjust="spacingAndGlyphs">网络水平</text>
<polygon points="561.1,1482.3 616.2,1482.3 616.2,1504.6 670.2,1504.6 589,1522 506.4,1504.6 561.1,1504.6" fill="#fff" stroke="#000" stroke-width="2"/>
<polygon points="1015.1,1486.5 1081.3,1503.9 1037.8,1503.9 1037.8,1525.5 992.1,1525.5 992.1,1503.9 948.6,1503.9" fill="#fff" stroke="#000" stroke-width="2"/>
<rect x="412.4" y="1535.5" width="756.2" height="958.5" fill="none" stroke="#000" stroke-width="5"/>
<line x1="416" y1="1540" x2="1166" y2="1540" stroke="#dbe8f5" stroke-width="2"/>
<polyline points="912,2229.5 912,2368.8 1111,2368.8 1111,1583.5 592.6,1583.5 592.6,1592" fill="none" stroke="#000" stroke-width="2"/>
<polygon points="592.6,1605 585.8,1591.3 599.4,1591.3" fill="#000"/>
<rect x="457.8" y="1606" width="134.8" height="48.2" fill="#fff" stroke="#000" stroke-width="2"/>
<rect x="592.6" y="1606" width="135.9" height="48.2" fill="#fff" stroke="#000" stroke-width="2"/>
<text x="525" y="1637" font-size="21" font-family="Liberation Sans" fill="#000" text-anchor="middle" textLength="33" lengthAdjust="spacingAndGlyphs">PGA</text>
<text x="660" y="1637" font-size="21" font-family="Liberation Sans" fill="#000" text-anchor="middle" textLength="88" lengthAdjust="spacingAndGlyphs">PGV、PGD</text>
<line x1="525.7" y1="1654.2" x2="525.7" y2="1727.1" stroke="#000" stroke-width="2"/>
<polygon points="525.7,1739.1 518.9,1724.6 532.5,1724.6" fill="#000"/>
<line x1="660.6" y1="1654.2" x2="660.6" y2="1727.1" stroke="#000" stroke-width="2"/>
<polygon points="660.6,1739.1 653.8,1724.6 667.4,1724.6" fill="#000"/>
<circle cx="525.7" cy="1774.1" r="35" fill="#fff" stroke="#444" stroke-width="1.5"/>
<circle cx="660.6" cy="1774.1" r="35" fill="#fff" stroke="#444" stroke-width="1.5"/>
<text x="525.7" y="1782" font-size="22" font-family="Liberation Sans" fill="#000" text-anchor="middle" textLength="42" lengthAdjust="spacingAndGlyphs">节点</text>
<text x="660.6" y="1782" font-size="22" font-family="Liberation Sans" fill="#000" text-anchor="middle" textLength="21" lengthAdjust="spacingAndGlyphs">边</text>
<polyline points="525.7,1809.1 525.7,1831.2 660.6,1831.2 660.6,1809.1" fill="none" stroke="#000" stroke-width="2"/>
<line x1="593" y1="1831.2" x2="593" y2="1866.4" stroke="#000" stroke-width="2"/>
<polygon points="593,1878.4 586.2,1863.9 599.8,1863.9" fill="#000"/>
<rect x="506.3" y="1879.4" width="173.3" height="47.6" fill="#fff" stroke="#000" stroke-width="2"/>
<text x="593" y="1911" font-size="22" font-family="Liberation Sans" fill="#000" text-anchor="middle" textLength="143" lengthAdjust="spacingAndGlyphs">单元失效概率P</text>
<line x1="679.6" y1="1903.2" x2="792" y2="1903.2" stroke="#000" stroke-width="2"/>
<polygon points="806,1903.2 791.5,1896.4 791.5,1910" fill="#000"/>
<rect x="806.6" y="1879.4" width="210.7" height="47.6" fill="#fff" stroke="#000" stroke-width="2"/>
<text x="911.3" y="1911" font-size="22" font-family="Liberation Sans" fill="#000" text-anchor="middle" textLength="150" lengthAdjust="spacingAndGlyphs">生成0-1随机数r</text>
<rect x="953" y="1739.1" width="136" height="70.3" fill="#fff" stroke="#000" stroke-width="2"/>
<text x="1021" y="1768" font-size="22" font-family="Liberation Sans" fill="#000" text-anchor="middle" textLength="110" lengthAdjust="spacingAndGlyphs">考虑地震动</text>
<text x="1021" y="1795" font-size="22" font-family="Liberation Sans" fill="#000" text-anchor="middle" textLength="88" lengthAdjust="spacingAndGlyphs">不确定性</text>
<line x1="912" y1="1927" x2="912" y2="1960.8" stroke="#000" stroke-width="2"/>
<polygon points="912,1972.8 905.2,1958.3 918.8,1958.3" fill="#000"/>
<polygon points="912,1972.8 970.7,2007.7 912,2042.7 853.5,2007.7" fill="#fff" stroke="#888" stroke-width="1.2"/>
<text x="912" y="2015" font-size="21" font-family="Liberation Sans" fill="#000" text-anchor="middle" textLength="42" lengthAdjust="spacingAndGlyphs">r&lt;P?</text>
<line x1="912" y1="2042.7" x2="912" y2="2075.5" stroke="#000" stroke-width="2"/>
<polygon points="912,2087.5 905.2,2073 918.8,2073" fill="#000"/>
<rect x="806.6" y="2087.8" width="210.7" height="49" fill="#fff" stroke="#000" stroke-width="2"/>
<text x="911.3" y="2120" font-size="22" font-family="Liberation Sans" fill="#000" text-anchor="middle" textLength="130" lengthAdjust="spacingAndGlyphs">生成破坏网络</text>
<line x1="912" y1="2136.8" x2="912" y2="2168.9" stroke="#000" stroke-width="2"/>
<polygon points="912,2180.9 905.2,2166.4 918.8,2166.4" fill="#000"/>
<rect x="806.6" y="2180.9" width="210.7" height="48.6" fill="#fff" stroke="#000" stroke-width="2"/>
<text x="911.3" y="2213" font-size="22" font-family="Liberation Sans" fill="#000" text-anchor="middle" textLength="110" lengthAdjust="spacingAndGlyphs">连通性评估</text>
<path d="M806,1910 C790,1950 780,2000 780.5,2100 C781,2220 800,2318 912,2318.8 C1020,2318 1043,2220 1043.8,2100 C1044,2000 1040,1960 1028,1915" fill="none" stroke="#000" stroke-width="2" stroke-dasharray="17,9"/>
<polygon points="1020,1902 1031,1922 1024,1913 1014,1917" fill="#000"/>
<rect x="615.7" y="2077.3" width="146.1" height="69.7" fill="#fff" stroke="#000" stroke-width="2" stroke-dasharray="17,8"/>
<text x="688.7" y="2106" font-size="22" font-family="Liberation Sans" fill="#000" text-anchor="middle" textLength="132" lengthAdjust="spacingAndGlyphs">不考虑地震动</text>
<text x="688.7" y="2133" font-size="22" font-family="Liberation Sans" fill="#000" text-anchor="middle" textLength="88" lengthAdjust="spacingAndGlyphs">不确定性</text>
<text x="847.7" y="2362" font-size="22" font-family="Liberation Sans" fill="#000" textLength="131" lengthAdjust="spacingAndGlyphs">蒙特卡罗模拟</text>
<rect x="672.8" y="2400" width="235.8" height="89.4" rx="44" ry="44" fill="#fff" stroke="#000" stroke-width="2"/>
<text x="790.7" y="2452" font-size="22" font-family="Liberation Sans" fill="#000" text-anchor="middle" textLength="197" lengthAdjust="spacingAndGlyphs">管网连通易损性计算</text>
<polyline points="2343.3,1587.5 2358.3,1587.5" fill="none" stroke="#ff0000" stroke-width="1.35" stroke-linejoin="round"/>
<polyline points="2342.6,1587.5 2342.6,1614.2 2330.1,1611.7" fill="none" stroke="#ff0000" stroke-width="1.35" stroke-linejoin="round"/>
<polyline points="2305.9,1620.4 2367.5,1621.7" fill="none" stroke="#ff0000" stroke-width="1.35" stroke-linejoin="round"/>
<polyline points="2305.9,1620.4 2308.9,1642.9 2303.4,1665.3 2304.7,1700" fill="none" stroke="#ff0000" stroke-width="1.35" stroke-linejoin="round"/>
<polyline points="2303.4,1665.3 2330.9,1674.1 2346.6,1665.3" fill="none" stroke="#ff0000" stroke-width="1.35" stroke-linejoin="round"/>
<polyline points="2783.3,1585.5 2773.4,1591.3" fill="none" stroke="#ff0000" stroke-width="1.35" stroke-linejoin="round"/>
<polyline points="2752.2,1506.5 2764.6,1509" fill="none" stroke="#ff0000" stroke-width="1.35" stroke-linejoin="round"/>
<polyline points="2304.7,1680 2308.4,1704.9 2307.2,1731.1 2277.3,1729.9 2245.6,1739.4" fill="none" stroke="#ff0000" stroke-width="1.35" stroke-linejoin="round"/>
<polyline points="2288.5,1701.2 2308.4,1704.9" fill="none" stroke="#ff0000" stroke-width="1.35" stroke-linejoin="round"/>
<polyline points="2600.9,1942.6 2613.9,1942.3 2615.2,1974.3 2612.7,2009.2 2613.9,2030.4 2617.7,2052.8 2615.2,2080" fill="none" stroke="#ff0000" stroke-width="1.35" stroke-linejoin="round"/>
<polyline points="2604.7,1965.5 2615.2,1965.5" fill="none" stroke="#ff0000" stroke-width="1.35" stroke-linejoin="round"/>
<polyline points="2554.8,1966.3 2559.1,1979.3 2576.5,1978 2615.2,1974.3" fill="none" stroke="#ff0000" stroke-width="1.35" stroke-linejoin="round"/>
<polyline points="2578.3,1969.3 2576.5,1978 2575.3,1986.7" fill="none" stroke="#ff0000" stroke-width="1.35" stroke-linejoin="round"/>
<polyline points="2559.1,1979.3 2561.5,1993 2559.1,2001.2 2539.1,2001.7" fill="none" stroke="#ff0000" stroke-width="1.35" stroke-linejoin="round"/>
<polyline points="2546.6,1991.7 2561.5,1993" fill="none" stroke="#ff0000" stroke-width="1.35" stroke-linejoin="round"/>
<polyline points="2612.7,2009.2 2628.1,2012.2" fill="none" stroke="#ff0000" stroke-width="1.35" stroke-linejoin="round"/>
<polyline points="2601.4,2018.4 2613.9,2019.2" fill="none" stroke="#ff0000" stroke-width="1.35" stroke-linejoin="round"/>
<polyline points="2607.2,2053.3 2617.7,2052.8" fill="none" stroke="#ff0000" stroke-width="1.35" stroke-linejoin="round"/>
<polyline points="2738.6,1990.5 2752.3,1973.5 2759.8,1980 2776.5,1979.3" fill="none" stroke="#ff0000" stroke-width="1.35" stroke-linejoin="round"/>
<polyline points="2890.7,2004.9 2915.6,2069 2933.6,2066" fill="none" stroke="#ff0000" stroke-width="1.35" stroke-linejoin="round"/>
<polyline points="2915.6,2069 2918.1,2080" fill="none" stroke="#ff0000" stroke-width="1.35" stroke-linejoin="round"/>
<polyline points="2616.6,2040 2617.7,2053.1 2611.2,2107.1 2687.4,2115.8 2727.7,2117.3 2728.8,2100.3 2728.8,2088.3 2742.5,2089.4" fill="none" stroke="#ff0000" stroke-width="1.35" stroke-linejoin="round"/>
<polyline points="2607.5,2053.1 2617.7,2053.1" fill="none" stroke="#ff0000" stroke-width="1.35" stroke-linejoin="round"/>
<polyline points="2687.4,2115.8 2691.8,2104.7" fill="none" stroke="#ff0000" stroke-width="1.35" stroke-linejoin="round"/>
<polyline points="2728.8,2100.3 2742.5,2098.1" fill="none" stroke="#ff0000" stroke-width="1.35" stroke-linejoin="round"/>
<polyline points="2773.4,2087.5 2768,2128.9 2801.7,2128.2 2825,2121.7 2818.5,2105.3" fill="none" stroke="#ff0000" stroke-width="1.35" stroke-linejoin="round"/>
<polyline points="2801.7,2128.2 2804.3,2113" fill="none" stroke="#ff0000" stroke-width="1.35" stroke-linejoin="round"/>
<polyline points="2768,2128.9 2762.5,2144.5" fill="none" stroke="#ff0000" stroke-width="1.35" stroke-linejoin="round"/>
<polyline points="2906.3,2040 2915.4,2069.4 2919.3,2091.2 2918.2,2105.8 2917.1,2136.9 2893.2,2167.4 2877.5,2158.7" fill="none" stroke="#ff0000" stroke-width="1.35" stroke-linejoin="round"/>
<polyline points="2915.4,2069.4 2933.5,2066.1" fill="none" stroke="#ff0000" stroke-width="1.35" stroke-linejoin="round"/>
<polyline points="2907.8,2092.3 2922.2,2092.3" fill="none" stroke="#ff0000" stroke-width="1.35" stroke-linejoin="round"/>
<polyline points="2918.2,2105.8 2929.8,2104.2 2948.7,2104.9 2983.6,2090.5 2985.3,2097.1" fill="none" stroke="#ff0000" stroke-width="1.35" stroke-linejoin="round"/>
<polyline points="2930.2,2094 2929.8,2104.2" fill="none" stroke="#ff0000" stroke-width="1.35" stroke-linejoin="round"/>
<polyline points="2946.5,2094 2948.7,2104.9" fill="none" stroke="#ff0000" stroke-width="1.35" stroke-linejoin="round"/>
<polyline points="2156.1,2217.3 2168.4,2236.5 2154.1,2247.1 2155.2,2263.7 2199.1,2278.9 2200,2293.8 2216.3,2295.3 2245.9,2277.5 2228.7,2278.6 2257.9,2323.1 2271.4,2330.3" fill="none" stroke="#ff0000" stroke-width="1.35" stroke-linejoin="round"/>
<polyline points="2245.9,2277.5 2247.9,2287.2" fill="none" stroke="#ff0000" stroke-width="1.35" stroke-linejoin="round"/>
<polyline points="2257.9,2323.1 2245.9,2325.4" fill="none" stroke="#ff0000" stroke-width="1.35" stroke-linejoin="round"/>
<polyline points="2200,2293.8 2187.6,2293.8 2166.1,2301.6 2131.1,2322.5 2124,2316.2" fill="none" stroke="#ff0000" stroke-width="1.35" stroke-linejoin="round"/>
<polyline points="2166.1,2301.6 2166.7,2291" fill="none" stroke="#ff0000" stroke-width="1.35" stroke-linejoin="round"/>
<polyline points="2216.3,2295.3 2201.4,2322.5 2192.5,2336.3 2170.4,2361.8 2154.7,2364.7 2138.9,2356.9 2138.9,2343.5 2131.1,2322.5" fill="none" stroke="#ff0000" stroke-width="1.35" stroke-linejoin="round"/>
<polyline points="2138.9,2343.5 2150.3,2343.5" fill="none" stroke="#ff0000" stroke-width="1.35" stroke-linejoin="round"/>
<polyline points="2201.4,2322.5 2191.9,2316.2" fill="none" stroke="#ff0000" stroke-width="1.35" stroke-linejoin="round"/>
<polyline points="2192.5,2336.3 2182.5,2330.3" fill="none" stroke="#ff0000" stroke-width="1.35" stroke-linejoin="round"/>
<polyline points="2170.4,2361.8 2170.4,2344.9" fill="none" stroke="#ff0000" stroke-width="1.35" stroke-linejoin="round"/>
<polyline points="2154.7,2364.7 2151.2,2418.6 2177,2465.4" fill="none" stroke="#ff0000" stroke-width="1.35" stroke-linejoin="round"/>
<polyline points="1786,2020.5 1779.7,2051.7 1749.1,2063 1703.3,2069.1" fill="none" stroke="#ff0000" stroke-width="1.35" stroke-linejoin="round"/>
<polyline points="2002.3,1924.7 2011.1,1931 1978.5,1999.4 1981.9,2032.5 1966.5,2069.1 1976.7,2073.2" fill="none" stroke="#ff0000" stroke-width="1.35" stroke-linejoin="round"/>
<polyline points="1978.5,1999.4 1994.4,1998.5" fill="none" stroke="#ff0000" stroke-width="1.35" stroke-linejoin="round"/>
<polyline points="1981.9,2032.5 1932.5,2048.1 1853.3,2046.5 1853.3,2038.1" fill="none" stroke="#ff0000" stroke-width="1.35" stroke-linejoin="round"/>
<polyline points="1932.5,2048.1 1922.3,2021.6 1927.3,2019.3" fill="none" stroke="#ff0000" stroke-width="1.35" stroke-linejoin="round"/>
<polyline points="2448.1,1563.8 2490.5,1593 2512.9,1576.8 2554.1,1535.7 2592.2,1519 2589,1506.5 2578.5,1507 2530.4,1490.8" fill="none" stroke="#ff00ff" stroke-width="1.35" stroke-linejoin="round"/>
<polyline points="2592.2,1519 2597.7,1499.5 2621.4,1492.8 2612.7,1448.9" fill="none" stroke="#ff00ff" stroke-width="1.35" stroke-linejoin="round"/>
<polyline points="2554.1,1535.7 2550.3,1525.7" fill="none" stroke="#ff00ff" stroke-width="1.35" stroke-linejoin="round"/>
<polyline points="2621.4,1492.8 2628.9,1517 2657.6,1524.4 2680,1518.2" fill="none" stroke="#ff00ff" stroke-width="1.35" stroke-linejoin="round"/>
<polyline points="2465,1525.2 2512.9,1576.8" fill="none" stroke="#ff00ff" stroke-width="1.35" stroke-linejoin="round"/>
<polyline points="2448.1,1563.8 2446.8,1611.7 2423.1,1626.2 2450.6,1625.4 2452.6,1640.4" fill="none" stroke="#ff00ff" stroke-width="1.35" stroke-linejoin="round"/>
<polyline points="2448.1,1563.8 2450.6,1625.4" fill="none" stroke="#ff00ff" stroke-width="1.35" stroke-linejoin="round"/>
<polyline points="2426.4,1639.7 2499.7,1639.7" fill="none" stroke="#ff00ff" stroke-width="1.35" stroke-linejoin="round"/>
<polyline points="2426.4,1639.7 2426.9,1656.6 2445.1,1668.6 2415.7,1693.5 2419.4,1700" fill="none" stroke="#ff00ff" stroke-width="1.35" stroke-linejoin="round"/>
<polyline points="2365.3,1689.5 2415.7,1693.5 2481.2,1688.5" fill="none" stroke="#ff00ff" stroke-width="1.35" stroke-linejoin="round"/>
<polyline points="2742.2,1392.3 2743.4,1463.3 2742.2,1483.3 2724.2,1484.5" fill="none" stroke="#ff00ff" stroke-width="1.35" stroke-linejoin="round"/>
<polyline points="2743.4,1463.3 2752.2,1506.5" fill="none" stroke="#ff00ff" stroke-width="1.35" stroke-linejoin="round"/>
<polyline points="2620,1483.3 2622,1492.5 2630,1517 2657.4,1524.4 2694.3,1514.5 2737.2,1512.7 2752.2,1506.5 2812,1496.5 2839,1496.5 2853.2,1504.5 2870.1,1514 2882.6,1491.3 2922.5,1454.6 2946.7,1405.5" fill="none" stroke="#ff00ff" stroke-width="1.35" stroke-linejoin="round"/>
<polyline points="2922.5,1454.6 2934.7,1456.4" fill="none" stroke="#ff00ff" stroke-width="1.35" stroke-linejoin="round"/>
<polyline points="2882.6,1491.3 2893.6,1499.5" fill="none" stroke="#ff00ff" stroke-width="1.35" stroke-linejoin="round"/>
<polyline points="2694.3,1514.5 2693.1,1525.7" fill="none" stroke="#ff00ff" stroke-width="1.35" stroke-linejoin="round"/>
<polyline points="2737.2,1512.7 2739.2,1529.4" fill="none" stroke="#ff00ff" stroke-width="1.35" stroke-linejoin="round"/>
<polyline points="2853.2,1504.5 2850.2,1518.2" fill="none" stroke="#ff00ff" stroke-width="1.35" stroke-linejoin="round"/>
<polyline points="2870.1,1514 2863.1,1565.6 2847.4,1588.8 2841.9,1566.8" fill="none" stroke="#ff00ff" stroke-width="1.35" stroke-linejoin="round"/>
<polyline points="2847.4,1588.8 2852.4,1604.7 2853.2,1637.9" fill="none" stroke="#ff00ff" stroke-width="1.35" stroke-linejoin="round"/>
<polyline points="2840.2,1604.2 2852.4,1604.7" fill="none" stroke="#ff00ff" stroke-width="1.35" stroke-linejoin="round"/>
<polyline points="2764.6,1512 2783.3,1575.6 2818.3,1633.7 2841.9,1629.9 2901.3,1636.7" fill="none" stroke="#ff00ff" stroke-width="1.35" stroke-linejoin="round"/>
<polyline points="2818.3,1633.7 2825.7,1660.3 2809.5,1660.3 2769.6,1651.6" fill="none" stroke="#ff00ff" stroke-width="1.35" stroke-linejoin="round"/>
<polyline points="2809.5,1660.3 2745.4,1676.1" fill="none" stroke="#ff00ff" stroke-width="1.35" stroke-linejoin="round"/>
<polyline points="2809.5,1660.3 2809.5,1677.1 2821.5,1677.1 2849.4,1664.8 2900,1668.3 2909.3,1700" fill="none" stroke="#ff00ff" stroke-width="1.35" stroke-linejoin="round"/>
<polyline points="2821.5,1677.1 2820.2,1684.8 2820.7,1700" fill="none" stroke="#ff00ff" stroke-width="1.35" stroke-linejoin="round"/>
<polyline points="2365.3,1689.5 2415.7,1693.7 2481.2,1688.2" fill="none" stroke="#ff00ff" stroke-width="1.35" stroke-linejoin="round"/>
<polyline points="2415.7,1693.7 2430.6,1680" fill="none" stroke="#ff00ff" stroke-width="1.35" stroke-linejoin="round"/>
<polyline points="2415.7,1693.7 2426.4,1709.9 2425.6,1729.9 2426.9,1738.1 2433.1,1759.1 2448.6,1786 2450.1,1815.9 2456.1,1833.9 2496.2,1829.1 2517.9,1813.4 2525.4,1819.7 2547.3,1837.1 2559.1,1837.9 2566.5,1839.6 2608.9,1845.8 2617.7,1845.8 2673.8,1848.3" fill="none" stroke="#ff00ff" stroke-width="1.35" stroke-linejoin="round"/>
<polyline points="2288.5,1697.5 2288.5,1706.2 2342.1,1713.7 2426.4,1709.9" fill="none" stroke="#ff00ff" stroke-width="1.35" stroke-linejoin="round"/>
<polyline points="2341.3,1706.2 2342.1,1713.7" fill="none" stroke="#ff00ff" stroke-width="1.35" stroke-linejoin="round"/>
<polyline points="2425.6,1729.9 2436.9,1729.9" fill="none" stroke="#ff00ff" stroke-width="1.35" stroke-linejoin="round"/>
<polyline points="2426.9,1738.1 2490.5,1735.4 2491.2,1747.8" fill="none" stroke="#ff00ff" stroke-width="1.35" stroke-linejoin="round"/>
<polyline points="2381.5,1764.8 2433.1,1759.1" fill="none" stroke="#ff00ff" stroke-width="1.35" stroke-linejoin="round"/>
<polyline points="2448.6,1786 2457.6,1799.2 2510.4,1774.8 2518.4,1768.5" fill="none" stroke="#ff00ff" stroke-width="1.35" stroke-linejoin="round"/>
<polyline points="2510.4,1774.8 2522.4,1789" fill="none" stroke="#ff00ff" stroke-width="1.35" stroke-linejoin="round"/>
<polyline points="2418.9,1815.9 2450.1,1815.9 2463.5,1816.4" fill="none" stroke="#ff00ff" stroke-width="1.35" stroke-linejoin="round"/>
<polyline points="2418.9,1815.9 2408.2,1847.1 2374.5,1846.6 2342.8,1825.1 2257.3,1853.3 2180,1882.5" fill="none" stroke="#ff00ff" stroke-width="1.35" stroke-linejoin="round"/>
<polyline points="2408.2,1847.1 2449.3,1868.3 2504.2,1842.1 2525.4,1819.7" fill="none" stroke="#ff00ff" stroke-width="1.35" stroke-linejoin="round"/>
<polyline points="2374.5,1846.6 2380.2,1865.8 2441.3,1872 2449.3,1868.3" fill="none" stroke="#ff00ff" stroke-width="1.35" stroke-linejoin="round"/>
<polyline points="2370,1865.8 2334.6,1940.6 2359.6,1949.3 2361.3,1955.6" fill="none" stroke="#ff00ff" stroke-width="1.35" stroke-linejoin="round"/>
<polyline points="2441.3,1872 2440.6,1880.7 2421.9,1886.5" fill="none" stroke="#ff00ff" stroke-width="1.35" stroke-linejoin="round"/>
<polyline points="2440.6,1880.7 2477.5,1903.7" fill="none" stroke="#ff00ff" stroke-width="1.35" stroke-linejoin="round"/>
<polyline points="2547.3,1837.1 2554.1,1817.9" fill="none" stroke="#ff00ff" stroke-width="1.35" stroke-linejoin="round"/>
<polyline points="2562.8,1810.2 2562.8,1837.9" fill="none" stroke="#ff00ff" stroke-width="1.35" stroke-linejoin="round"/>
<polyline points="2576.5,1810.9 2585.2,1820.4 2591.5,1815.4" fill="none" stroke="#ff00ff" stroke-width="1.35" stroke-linejoin="round"/>
<polyline points="2582.2,1790.2 2566.5,1839.6 2552.8,1859.1" fill="none" stroke="#ff00ff" stroke-width="1.35" stroke-linejoin="round"/>
<polyline points="2608.9,1845.8 2609.4,1857.6" fill="none" stroke="#ff00ff" stroke-width="1.35" stroke-linejoin="round"/>
<polyline points="2617.7,1845.8 2617.2,1834.1" fill="none" stroke="#ff00ff" stroke-width="1.35" stroke-linejoin="round"/>
<polyline points="2656.3,1807.2 2673.8,1848.3 2680,1859.6" fill="none" stroke="#ff00ff" stroke-width="1.35" stroke-linejoin="round"/>
<polyline points="2655.1,1899.5 2655.1,1886.5 2676.3,1881.5" fill="none" stroke="#ff00ff" stroke-width="1.35" stroke-linejoin="round"/>
<polyline points="2674.5,1890.7 2676.3,1881.5" fill="none" stroke="#ff00ff" stroke-width="1.35" stroke-linejoin="round"/>
<polyline points="2820.3,1684.5 2820.3,1718.2 2817.1,1756.6 2771,1777.3 2761,1831.4 2718.1,1838.4 2697.4,1844.1 2673.7,1848.3 2660,1847.6" fill="none" stroke="#ff00ff" stroke-width="1.35" stroke-linejoin="round"/>
<polyline points="2820.3,1718.2 2831.6,1716.9 2879,1741.8 2903.1,1740.3 2923.1,1728.6" fill="none" stroke="#ff00ff" stroke-width="1.35" stroke-linejoin="round"/>
<polyline points="2831.6,1716.9 2830.3,1731.6" fill="none" stroke="#ff00ff" stroke-width="1.35" stroke-linejoin="round"/>
<polyline points="2765.5,1754.1 2817.1,1756.6" fill="none" stroke="#ff00ff" stroke-width="1.35" stroke-linejoin="round"/>
<polyline points="2761,1831.4 2760.5,1857.6 2751.8,1857.8" fill="none" stroke="#ff00ff" stroke-width="1.35" stroke-linejoin="round"/>
<polyline points="2683.2,1783.5 2687.4,1820.4 2700.4,1820.4" fill="none" stroke="#ff00ff" stroke-width="1.35" stroke-linejoin="round"/>
<polyline points="2687.4,1820.4 2690.7,1829.6 2714.4,1830.4 2718.1,1838.4" fill="none" stroke="#ff00ff" stroke-width="1.35" stroke-linejoin="round"/>
<polyline points="2679.5,1830.9 2690.7,1829.6" fill="none" stroke="#ff00ff" stroke-width="1.35" stroke-linejoin="round"/>
<polyline points="2660,1815.9 2673.7,1848.3 2686.2,1869.5 2691.2,1878.3 2712.4,1911.2 2731.1,1946.8 2723.6,1985.5 2734.8,1986.7 2745.5,1997.2 2766.7,1998.5 2774.7,2028.6 2789.2,2045.8 2797.2,2080" fill="none" stroke="#ff00ff" stroke-width="1.35" stroke-linejoin="round"/>
<polyline points="2697.4,1844.1 2709.9,1866.5 2716.9,1879.5 2754.3,1937.6 2767.7,1955.1 2785.9,1969.8 2790.9,1995.5 2808.9,2004.2 2820.3,2037.9 2770.2,2038.6" fill="none" stroke="#ff00ff" stroke-width="1.35" stroke-linejoin="round"/>
<polyline points="2693.7,1865.8 2709.9,1866.5" fill="none" stroke="#ff00ff" stroke-width="1.35" stroke-linejoin="round"/>
<polyline points="2701.9,1873.8 2693.7,1865.8" fill="none" stroke="#ff00ff" stroke-width="1.35" stroke-linejoin="round"/>
<polyline points="2716.9,1879.5 2733.6,1871.5" fill="none" stroke="#ff00ff" stroke-width="1.35" stroke-linejoin="round"/>
<polyline points="2660,1885.7 2676.2,1880.7 2691.2,1878.3" fill="none" stroke="#ff00ff" stroke-width="1.35" stroke-linejoin="round"/>
<polyline points="2674.5,1890.7 2676.2,1880.7" fill="none" stroke="#ff00ff" stroke-width="1.35" stroke-linejoin="round"/>
<polyline points="2698.2,1911.2 2712.4,1911.2" fill="none" stroke="#ff00ff" stroke-width="1.35" stroke-linejoin="round"/>
<polyline points="2731.1,1946.8 2738.6,1943.8 2754.3,1937.6 2770.2,1930.1 2770.2,1916.4" fill="none" stroke="#ff00ff" stroke-width="1.35" stroke-linejoin="round"/>
<polyline points="2738.6,1943.8 2745.5,1952.6" fill="none" stroke="#ff00ff" stroke-width="1.35" stroke-linejoin="round"/>
<polyline points="2767.7,1955.1 2840.3,1931.4" fill="none" stroke="#ff00ff" stroke-width="1.35" stroke-linejoin="round"/>
<polyline points="2774.7,2028.6 2787.2,2016.7" fill="none" stroke="#ff00ff" stroke-width="1.35" stroke-linejoin="round"/>
<polyline points="2903.9,1680 2916.9,1709.4" fill="none" stroke="#ff00ff" stroke-width="1.35" stroke-linejoin="round"/>
<polyline points="2773.4,2087.5 2798.5,2087.5 2860.5,2084.6 2908.4,2083.6 2908.4,2088.3" fill="none" stroke="#ff00ff" stroke-width="1.35" stroke-linejoin="round"/>
<polyline points="2786.5,2040 2798.5,2080.3 2798.5,2087.5" fill="none" stroke="#ff00ff" stroke-width="1.35" stroke-linejoin="round"/>
<polyline points="2395.6,2192.9 2399.9,2211.5 2368.3,2227 2356.9,2256.5 2331,2263.7 2309.5,2267.4 2273.7,2287.2 2247.9,2285.2" fill="none" stroke="#ff00ff" stroke-width="1.35" stroke-linejoin="round"/>
<polyline points="2368.3,2227 2381.8,2233.6" fill="none" stroke="#ff00ff" stroke-width="1.35" stroke-linejoin="round"/>
<polyline points="2309.5,2267.4 2328.2,2246.5" fill="none" stroke="#ff00ff" stroke-width="1.35" stroke-linejoin="round"/>
<polyline points="2331,2263.7 2340.5,2281.8" fill="none" stroke="#ff00ff" stroke-width="1.35" stroke-linejoin="round"/>
<polyline points="2356.9,2256.5 2358.3,2278.1 2388.4,2275.8 2386.4,2287.2" fill="none" stroke="#ff00ff" stroke-width="1.35" stroke-linejoin="round"/>
<polyline points="2358.3,2278.1 2362.6,2291.5 2358.3,2322.5 2321.6,2325.4 2312.4,2356.9 2320.4,2367.8" fill="none" stroke="#ff00ff" stroke-width="1.35" stroke-linejoin="round"/>
<polyline points="2354,2292.4 2362.6,2291.5" fill="none" stroke="#ff00ff" stroke-width="1.35" stroke-linejoin="round"/>
<polyline points="2358.3,2322.5 2364,2329.7 2369.2,2341.2 2355.4,2367" fill="none" stroke="#ff00ff" stroke-width="1.35" stroke-linejoin="round"/>
<polyline points="2364,2329.7 2373.5,2327.7" fill="none" stroke="#ff00ff" stroke-width="1.35" stroke-linejoin="round"/>
<polyline points="2200,1875.5 2146.1,1893.6 2042.4,1903.1 2000,1911.7 1883.8,1953.6 1862.3,1976.3 1786,2020.5" fill="none" stroke="#ff00ff" stroke-width="1.35" stroke-linejoin="round"/>
<polyline points="2146.1,1893.6 2140.9,1830.2 2109.2,1817.1" fill="none" stroke="#ff00ff" stroke-width="1.35" stroke-linejoin="round"/>
<polyline points="2000,1911.7 2002.3,1924.7" fill="none" stroke="#ff00ff" stroke-width="1.35" stroke-linejoin="round"/>
<polyline points="2329.6,1320.4 2443.8,1478.8" fill="none" stroke="#0000ff" stroke-width="1.35" stroke-linejoin="round"/>
<polyline points="2328.4,1597.3 2399.5,1497 2443.8,1478.8 2543.6,1448.9 2607.2,1436.4 2626.4,1425.9 2680,1419.7" fill="none" stroke="#0000ff" stroke-width="1.35" stroke-linejoin="round"/>
<polyline points="2443.8,1478.8 2460.5,1506.5 2421.9,1514 2448.1,1563.8" fill="none" stroke="#0000ff" stroke-width="1.35" stroke-linejoin="round"/>
<polyline points="2460.5,1506.5 2465,1525.2" fill="none" stroke="#0000ff" stroke-width="1.35" stroke-linejoin="round"/>
<polyline points="2529.1,1444.6 2543.6,1448.9" fill="none" stroke="#0000ff" stroke-width="1.35" stroke-linejoin="round"/>
<polyline points="2607.2,1436.4 2612.7,1448.9" fill="none" stroke="#0000ff" stroke-width="1.35" stroke-linejoin="round"/>
<polyline points="2199.5,1539.9 2328.4,1597.3" fill="none" stroke="#0000ff" stroke-width="1.35" stroke-linejoin="round"/>
<polyline points="2328.4,1597.3 2360.8,1603.7 2391.5,1646.1 2440.6,1681.5 2465.5,1665.3 2481.2,1664.6" fill="none" stroke="#0000ff" stroke-width="1.35" stroke-linejoin="round"/>
<polyline points="2328.4,1597.3 2325.4,1606.7 2325.1,1647.9 2303.4,1700" fill="none" stroke="#0000ff" stroke-width="1.35" stroke-linejoin="round"/>
<polyline points="2233.1,1664.6 2259.8,1700" fill="none" stroke="#0000ff" stroke-width="1.35" stroke-linejoin="round"/>
<polyline points="2670,1594.3 2680,1583" fill="none" stroke="#0000ff" stroke-width="1.35" stroke-linejoin="round"/>
<polyline points="2620,1429.7 2626.2,1425.4 2724.2,1413.5 2742.2,1401 2748.4,1398.5 2840.2,1402.2 2932.5,1407.2 2946.7,1405.5" fill="none" stroke="#0000ff" stroke-width="1.35" stroke-linejoin="round"/>
<polyline points="2840.2,1402.2 2834,1502 2754.2,1513.2 2738.5,1553.9 2694.8,1569.3 2670.4,1594.3" fill="none" stroke="#0000ff" stroke-width="1.35" stroke-linejoin="round"/>
<polyline points="2932.5,1407.2 2942.4,1444.6 3025.2,1447.1 3025.2,1435.9" fill="none" stroke="#0000ff" stroke-width="1.35" stroke-linejoin="round"/>
<polyline points="2942.4,1444.6 2918,1581.8 2887.3,1627.2 2906.8,1632.2 2910.5,1700" fill="none" stroke="#0000ff" stroke-width="1.35" stroke-linejoin="round"/>
<polyline points="2259.8,1700 2263.5,1704.2 2299.7,1714.9" fill="none" stroke="#0000ff" stroke-width="1.35" stroke-linejoin="round"/>
<polyline points="2310.9,1680 2299.7,1704.9 2300.9,1731.1 2304.7,1784.7 2308.4,1815.9" fill="none" stroke="#0000ff" stroke-width="1.35" stroke-linejoin="round"/>
<polyline points="2288.5,1697.5 2299.7,1699.5" fill="none" stroke="#0000ff" stroke-width="1.35" stroke-linejoin="round"/>
<polyline points="2297.2,1787.2 2309.7,1778.5 2357.1,1766 2381.5,1764.8" fill="none" stroke="#0000ff" stroke-width="1.35" stroke-linejoin="round"/>
<polyline points="2297.2,1787.2 2308.4,1815.9 2346.6,1861.5 2392,1931.9 2395.2,1936.9 2404.4,2007.9 2437.6,2011.2 2468,2012.9 2532.4,2027.9 2574,2024.6 2608.9,2031.6 2680,2046.6" fill="none" stroke="#0000ff" stroke-width="1.35" stroke-linejoin="round"/>
<polyline points="2346.6,1861.5 2374.5,1846.6" fill="none" stroke="#0000ff" stroke-width="1.35" stroke-linejoin="round"/>
<polyline points="2437.6,2011.2 2437.6,2024.1" fill="none" stroke="#0000ff" stroke-width="1.35" stroke-linejoin="round"/>
<polyline points="2468,2012.9 2470.5,2024.1" fill="none" stroke="#0000ff" stroke-width="1.35" stroke-linejoin="round"/>
<polyline points="2532.4,2027.9 2496.7,2080" fill="none" stroke="#0000ff" stroke-width="1.35" stroke-linejoin="round"/>
<polyline points="2552.8,1859.1 2559.1,1872 2537.4,1953.1 2539.1,2001.7 2534.1,2080" fill="none" stroke="#0000ff" stroke-width="1.35" stroke-linejoin="round"/>
<polyline points="2537.4,1953.1 2558.3,1951.8" fill="none" stroke="#0000ff" stroke-width="1.35" stroke-linejoin="round"/>
<polyline points="2908.1,1680 2910.1,1721.1 2912.4,1724.4 2903.1,1740.3" fill="none" stroke="#0000ff" stroke-width="1.35" stroke-linejoin="round"/>
<polyline points="2840.3,1931.4 2885.2,1929.4 2894.4,1954.3 2877.5,2032.4 2859.5,2043.6 2794.7,2047.8 2778.5,2046.6 2769.7,2053.3 2724.3,2059.1 2660,2042.8" fill="none" stroke="#0000ff" stroke-width="1.35" stroke-linejoin="round"/>
<polyline points="2778.5,2046.6 2783.4,2064" fill="none" stroke="#0000ff" stroke-width="1.35" stroke-linejoin="round"/>
<polyline points="2649.3,2040 2724.4,2059.2 2770.1,2053.1 2778.9,2048.7 2860.5,2042.6 2867.1,2040" fill="none" stroke="#0000ff" stroke-width="1.35" stroke-linejoin="round"/>
<polyline points="2778.9,2048.7 2783.2,2064" fill="none" stroke="#0000ff" stroke-width="1.35" stroke-linejoin="round"/>
<polyline points="2523.2,2040 2495.4,2080.2 2496,2131.2 2493.1,2132.6" fill="none" stroke="#0000ff" stroke-width="1.35" stroke-linejoin="round"/>
<polyline points="2537.6,2040 2533.3,2095.9 2499.4,2136.1 2477.3,2152.4 2430,2177.7 2395.6,2192.9" fill="none" stroke="#0000ff" stroke-width="1.35" stroke-linejoin="round"/>
<polyline points="2481.6,2130.3 2493.1,2132.6" fill="none" stroke="#0000ff" stroke-width="1.35" stroke-linejoin="round"/>
<circle cx="2443.8" cy="1478.8" r="3.4" fill="#fff" stroke="#000" stroke-width="1.1"/>
<circle cx="2460.5" cy="1506.5" r="3.4" fill="#fff" stroke="#000" stroke-width="1.1"/>
<circle cx="2421.9" cy="1514" r="3.4" fill="#fff" stroke="#000" stroke-width="1.1"/>
<circle cx="2465" cy="1525.2" r="3.4" fill="#fff" stroke="#000" stroke-width="1.1"/>
<circle cx="2529.1" cy="1444.6" r="3.4" fill="#fff" stroke="#000" stroke-width="1.1"/>
<circle cx="2543.6" cy="1448.9" r="3.4" fill="#fff" stroke="#000" stroke-width="1.1"/>
<circle cx="2607.2" cy="1436.4" r="3.4" fill="#fff" stroke="#000" stroke-width="1.1"/>
<circle cx="2612.7" cy="1448.9" r="3.4" fill="#fff" stroke="#000" stroke-width="1.1"/>
<circle cx="2530.4" cy="1490.8" r="3.4" fill="#fff" stroke="#000" stroke-width="1.1"/>
<circle cx="2578.5" cy="1507" r="3.4" fill="#fff" stroke="#000" stroke-width="1.1"/>
<circle cx="2592.2" cy="1519" r="3.4" fill="#fff" stroke="#000" stroke-width="1.1"/>
<circle cx="2621.4" cy="1492.8" r="3.4" fill="#fff" stroke="#000" stroke-width="1.1"/>
<circle cx="2550.3" cy="1525.7" r="3.4" fill="#fff" stroke="#000" stroke-width="1.1"/>
<circle cx="2554.1" cy="1535.7" r="3.4" fill="#fff" stroke="#000" stroke-width="1.1"/>
<circle cx="2512.9" cy="1576.8" r="3.4" fill="#fff" stroke="#000" stroke-width="1.1"/>
<circle cx="2490.5" cy="1593" r="3.4" fill="#fff" stroke="#000" stroke-width="1.1"/>
<circle cx="2328.4" cy="1597.3" r="3.4" fill="#fff" stroke="#000" stroke-width="1.1"/>
<circle cx="2343.3" cy="1587.5" r="3.4" fill="#fff" stroke="#000" stroke-width="1.1"/>
<circle cx="2358.3" cy="1587.5" r="3.4" fill="#fff" stroke="#000" stroke-width="1.1"/>
<circle cx="2330.1" cy="1611.7" r="3.4" fill="#fff" stroke="#000" stroke-width="1.1"/>
<circle cx="2342.6" cy="1614.2" r="3.4" fill="#fff" stroke="#000" stroke-width="1.1"/>
<circle cx="2330.9" cy="1619.2" r="3.4" fill="#fff" stroke="#000" stroke-width="1.1"/>
<circle cx="2341.3" cy="1621.7" r="3.4" fill="#fff" stroke="#000" stroke-width="1.1"/>
<circle cx="2367.5" cy="1621.7" r="3.4" fill="#fff" stroke="#000" stroke-width="1.1"/>
<circle cx="2303.4" cy="1665.3" r="3.4" fill="#fff" stroke="#000" stroke-width="1.1"/>
<circle cx="2346.6" cy="1665.3" r="3.4" fill="#fff" stroke="#000" stroke-width="1.1"/>
<circle cx="2423.1" cy="1626.2" r="3.4" fill="#fff" stroke="#000" stroke-width="1.1"/>
<circle cx="2450.6" cy="1625.4" r="3.4" fill="#fff" stroke="#000" stroke-width="1.1"/>
<circle cx="2426.4" cy="1639.7" r="3.4" fill="#fff" stroke="#000" stroke-width="1.1"/>
<circle cx="2452.6" cy="1640.4" r="3.4" fill="#fff" stroke="#000" stroke-width="1.1"/>
<circle cx="2484.7" cy="1639.2" r="3.4" fill="#fff" stroke="#000" stroke-width="1.1"/>
<circle cx="2499.7" cy="1639.7" r="3.4" fill="#fff" stroke="#000" stroke-width="1.1"/>
<circle cx="2481.2" cy="1664.6" r="3.4" fill="#fff" stroke="#000" stroke-width="1.1"/>
<circle cx="2365.3" cy="1689.5" r="3.4" fill="#fff" stroke="#000" stroke-width="1.1"/>
<circle cx="2415.7" cy="1693.5" r="3.4" fill="#fff" stroke="#000" stroke-width="1.1"/>
<circle cx="2481.2" cy="1688.5" r="3.4" fill="#fff" stroke="#000" stroke-width="1.1"/>
<circle cx="2670" cy="1594.3" r="3.4" fill="#fff" stroke="#000" stroke-width="1.1"/>
<circle cx="2288.5" cy="1697" r="3.4" fill="#fff" stroke="#000" stroke-width="1.1"/>
<circle cx="2299.7" cy="1699" r="3.4" fill="#fff" stroke="#000" stroke-width="1.1"/>
<circle cx="2742.2" cy="1392.3" r="3.4" fill="#fff" stroke="#000" stroke-width="1.1"/>
<circle cx="2748.4" cy="1398.5" r="3.4" fill="#fff" stroke="#000" stroke-width="1.1"/>
<circle cx="2840.2" cy="1402.2" r="3.4" fill="#fff" stroke="#000" stroke-width="1.1"/>
<circle cx="2932.5" cy="1407.2" r="3.4" fill="#fff" stroke="#000" stroke-width="1.1"/>
<circle cx="2743.4" cy="1463.3" r="3.4" fill="#fff" stroke="#000" stroke-width="1.1"/>
<circle cx="2724.2" cy="1484.5" r="3.4" fill="#fff" stroke="#000" stroke-width="1.1"/>
<circle cx="2694.3" cy="1514.5" r="3.4" fill="#fff" stroke="#000" stroke-width="1.1"/>
<circle cx="2693.1" cy="1525.7" r="3.4" fill="#fff" stroke="#000" stroke-width="1.1"/>
<circle cx="2737.2" cy="1512.7" r="3.4" fill="#fff" stroke="#000" stroke-width="1.1"/>
<circle cx="2739.2" cy="1529.4" r="3.4" fill="#fff" stroke="#000" stroke-width="1.1"/>
<circle cx="2752.2" cy="1506.5" r="3.4" fill="#fff" stroke="#000" stroke-width="1.1"/>
<circle cx="2754.2" cy="1513.2" r="3.4" fill="#fff" stroke="#000" stroke-width="1.1"/>
<circle cx="2834" cy="1502" r="3.4" fill="#fff" stroke="#000" stroke-width="1.1"/>
<circle cx="2853.2" cy="1504.5" r="3.4" fill="#fff" stroke="#000" stroke-width="1.1"/>
<circle cx="2850.2" cy="1518.2" r="3.4" fill="#fff" stroke="#000" stroke-width="1.1"/>
<circle cx="2870.1" cy="1514" r="3.4" fill="#fff" stroke="#000" stroke-width="1.1"/>
<circle cx="2882.6" cy="1491.3" r="3.4" fill="#fff" stroke="#000" stroke-width="1.1"/>
<circle cx="2893.6" cy="1499.5" r="3.4" fill="#fff" stroke="#000" stroke-width="1.1"/>
<circle cx="2922.5" cy="1454.6" r="3.4" fill="#fff" stroke="#000" stroke-width="1.1"/>
<circle cx="2934.7" cy="1456.4" r="3.4" fill="#fff" stroke="#000" stroke-width="1.1"/>
<circle cx="2942.4" cy="1444.6" r="3.4" fill="#fff" stroke="#000" stroke-width="1.1"/>
<circle cx="3025.2" cy="1447.1" r="3.4" fill="#fff" stroke="#000" stroke-width="1.1"/>
<circle cx="3025.2" cy="1435.9" r="3.4" fill="#fff" stroke="#000" stroke-width="1.1"/>
<circle cx="2863.1" cy="1565.6" r="3.4" fill="#fff" stroke="#000" stroke-width="1.1"/>
<circle cx="2841.9" cy="1566.8" r="3.4" fill="#fff" stroke="#000" stroke-width="1.1"/>
<circle cx="2847.4" cy="1588.8" r="3.4" fill="#fff" stroke="#000" stroke-width="1.1"/>
<circle cx="2840.2" cy="1604.2" r="3.4" fill="#fff" stroke="#000" stroke-width="1.1"/>
<circle cx="2852.4" cy="1604.7" r="3.4" fill="#fff" stroke="#000" stroke-width="1.1"/>
<circle cx="2853.2" cy="1637.9" r="3.4" fill="#fff" stroke="#000" stroke-width="1.1"/>
<circle cx="2783.3" cy="1585.5" r="3.4" fill="#fff" stroke="#000" stroke-width="1.1"/>
<circle cx="2773.4" cy="1591.3" r="3.4" fill="#fff" stroke="#000" stroke-width="1.1"/>
<circle cx="2818.3" cy="1633.7" r="3.4" fill="#fff" stroke="#000" stroke-width="1.1"/>
<circle cx="2841.9" cy="1629.9" r="3.4" fill="#fff" stroke="#000" stroke-width="1.1"/>
<circle cx="2887.3" cy="1627.2" r="3.4" fill="#fff" stroke="#000" stroke-width="1.1"/>
<circle cx="2769.6" cy="1651.6" r="3.4" fill="#fff" stroke="#000" stroke-width="1.1"/>
<circle cx="2745.4" cy="1676.1" r="3.4" fill="#fff" stroke="#000" stroke-width="1.1"/>
<circle cx="2821.5" cy="1677.1" r="3.4" fill="#fff" stroke="#000" stroke-width="1.1"/>
<circle cx="2820.2" cy="1684.8" r="3.4" fill="#fff" stroke="#000" stroke-width="1.1"/>
<circle cx="2849.4" cy="1664.8" r="3.4" fill="#fff" stroke="#000" stroke-width="1.1"/>
<circle cx="2308.4" cy="1704.9" r="3.4" fill="#fff" stroke="#000" stroke-width="1.1"/>
<circle cx="2341.3" cy="1706.2" r="3.4" fill="#fff" stroke="#000" stroke-width="1.1"/>
<circle cx="2342.1" cy="1713.7" r="3.4" fill="#fff" stroke="#000" stroke-width="1.1"/>
<circle cx="2426.4" cy="1709.9" r="3.4" fill="#fff" stroke="#000" stroke-width="1.1"/>
<circle cx="2300.2" cy="1717.4" r="3.4" fill="#fff" stroke="#000" stroke-width="1.1"/>
<circle cx="2307.2" cy="1731.1" r="3.4" fill="#fff" stroke="#000" stroke-width="1.1"/>
<circle cx="2245.6" cy="1739.4" r="3.4" fill="#fff" stroke="#000" stroke-width="1.1"/>
<circle cx="2425.6" cy="1729.9" r="3.4" fill="#fff" stroke="#000" stroke-width="1.1"/>
<circle cx="2436.9" cy="1729.9" r="3.4" fill="#fff" stroke="#000" stroke-width="1.1"/>
<circle cx="2426.9" cy="1738.1" r="3.4" fill="#fff" stroke="#000" stroke-width="1.1"/>
<circle cx="2491.2" cy="1747.8" r="3.4" fill="#fff" stroke="#000" stroke-width="1.1"/>
<circle cx="2433.1" cy="1759.1" r="3.4" fill="#fff" stroke="#000" stroke-width="1.1"/>
<circle cx="2381.5" cy="1764.8" r="3.4" fill="#fff" stroke="#000" stroke-width="1.1"/>
<circle cx="2448.6" cy="1786" r="3.4" fill="#fff" stroke="#000" stroke-width="1.1"/>
<circle cx="2510.4" cy="1774.8" r="3.4" fill="#fff" stroke="#000" stroke-width="1.1"/>
<circle cx="2518.4" cy="1768.5" r="3.4" fill="#fff" stroke="#000" stroke-width="1.1"/>
<circle cx="2522.4" cy="1789" r="3.4" fill="#fff" stroke="#000" stroke-width="1.1"/>
<circle cx="2308.4" cy="1815.9" r="3.4" fill="#fff" stroke="#000" stroke-width="1.1"/>
<circle cx="2418.9" cy="1815.9" r="3.4" fill="#fff" stroke="#000" stroke-width="1.1"/>
<circle cx="2450.1" cy="1815.9" r="3.4" fill="#fff" stroke="#000" stroke-width="1.1"/>
<circle cx="2463.5" cy="1816.4" r="3.4" fill="#fff" stroke="#000" stroke-width="1.1"/>
<circle cx="2456.1" cy="1833.9" r="3.4" fill="#fff" stroke="#000" stroke-width="1.1"/>
<circle cx="2496.2" cy="1829.1" r="3.4" fill="#fff" stroke="#000" stroke-width="1.1"/>
<circle cx="2525.4" cy="1819.7" r="3.4" fill="#fff" stroke="#000" stroke-width="1.1"/>
<circle cx="2547.3" cy="1837.1" r="3.4" fill="#fff" stroke="#000" stroke-width="1.1"/>
<circle cx="2559.1" cy="1837.9" r="3.4" fill="#fff" stroke="#000" stroke-width="1.1"/>
<circle cx="2566.5" cy="1839.6" r="3.4" fill="#fff" stroke="#000" stroke-width="1.1"/>
<circle cx="2554.1" cy="1817.9" r="3.4" fill="#fff" stroke="#000" stroke-width="1.1"/>
<circle cx="2562.8" cy="1810.2" r="3.4" fill="#fff" stroke="#000" stroke-width="1.1"/>
<circle cx="2576.5" cy="1810.9" r="3.4" fill="#fff" stroke="#000" stroke-width="1.1"/>
<circle cx="2591.5" cy="1815.4" r="3.4" fill="#fff" stroke="#000" stroke-width="1.1"/>
<circle cx="2582.2" cy="1790.2" r="3.4" fill="#fff" stroke="#000" stroke-width="1.1"/>
<circle cx="2552.8" cy="1859.1" r="3.4" fill="#fff" stroke="#000" stroke-width="1.1"/>
<circle cx="2608.9" cy="1845.8" r="3.4" fill="#fff" stroke="#000" stroke-width="1.1"/>
<circle cx="2617.7" cy="1845.8" r="3.4" fill="#fff" stroke="#000" stroke-width="1.1"/>
<circle cx="2609.4" cy="1857.6" r="3.4" fill="#fff" stroke="#000" stroke-width="1.1"/>
<circle cx="2617.2" cy="1834.1" r="3.4" fill="#fff" stroke="#000" stroke-width="1.1"/>
<circle cx="2656.3" cy="1807.2" r="3.4" fill="#fff" stroke="#000" stroke-width="1.1"/>
<circle cx="2673.8" cy="1848.3" r="3.4" fill="#fff" stroke="#000" stroke-width="1.1"/>
<circle cx="2257.3" cy="1853.3" r="3.4" fill="#fff" stroke="#000" stroke-width="1.1"/>
<circle cx="2374.5" cy="1846.6" r="3.4" fill="#fff" stroke="#000" stroke-width="1.1"/>
<circle cx="2408.2" cy="1847.1" r="3.4" fill="#fff" stroke="#000" stroke-width="1.1"/>
<circle cx="2346.6" cy="1861.5" r="3.4" fill="#fff" stroke="#000" stroke-width="1.1"/>
<circle cx="2370" cy="1865.8" r="3.4" fill="#fff" stroke="#000" stroke-width="1.1"/>
<circle cx="2380.2" cy="1865.8" r="3.4" fill="#fff" stroke="#000" stroke-width="1.1"/>
<circle cx="2449.3" cy="1868.3" r="3.4" fill="#fff" stroke="#000" stroke-width="1.1"/>
<circle cx="2441.3" cy="1872" r="3.4" fill="#fff" stroke="#000" stroke-width="1.1"/>
<circle cx="2440.6" cy="1880.7" r="3.4" fill="#fff" stroke="#000" stroke-width="1.1"/>
<circle cx="2421.9" cy="1886.5" r="3.4" fill="#fff" stroke="#000" stroke-width="1.1"/>
<circle cx="2477.5" cy="1903.7" r="3.4" fill="#fff" stroke="#000" stroke-width="1.1"/>
<circle cx="2361.3" cy="1955.6" r="3.4" fill="#fff" stroke="#000" stroke-width="1.1"/>
<circle cx="2395.2" cy="1936.9" r="3.4" fill="#fff" stroke="#000" stroke-width="1.1"/>
<circle cx="2404.4" cy="2007.9" r="3.4" fill="#fff" stroke="#000" stroke-width="1.1"/>
<circle cx="2437.6" cy="2011.2" r="3.4" fill="#fff" stroke="#000" stroke-width="1.1"/>
<circle cx="2437.6" cy="2024.1" r="3.4" fill="#fff" stroke="#000" stroke-width="1.1"/>
<circle cx="2468" cy="2012.9" r="3.4" fill="#fff" stroke="#000" stroke-width="1.1"/>
<circle cx="2470.5" cy="2024.1" r="3.4" fill="#fff" stroke="#000" stroke-width="1.1"/>
<circle cx="2532.4" cy="2027.9" r="3.4" fill="#fff" stroke="#000" stroke-width="1.1"/>
<circle cx="2537.4" cy="1953.1" r="3.4" fill="#fff" stroke="#000" stroke-width="1.1"/>
<circle cx="2558.3" cy="1951.8" r="3.4" fill="#fff" stroke="#000" stroke-width="1.1"/>
<circle cx="2539.1" cy="2001.7" r="3.4" fill="#fff" stroke="#000" stroke-width="1.1"/>
<circle cx="2600.9" cy="1942.6" r="3.4" fill="#fff" stroke="#000" stroke-width="1.1"/>
<circle cx="2613.9" cy="1942.3" r="3.4" fill="#fff" stroke="#000" stroke-width="1.1"/>
<circle cx="2604.7" cy="1965.5" r="3.4" fill="#fff" stroke="#000" stroke-width="1.1"/>
<circle cx="2615.2" cy="1965.5" r="3.4" fill="#fff" stroke="#000" stroke-width="1.1"/>
<circle cx="2554.8" cy="1966.3" r="3.4" fill="#fff" stroke="#000" stroke-width="1.1"/>
<circle cx="2559.1" cy="1979.3" r="3.4" fill="#fff" stroke="#000" stroke-width="1.1"/>
<circle cx="2576.5" cy="1978" r="3.4" fill="#fff" stroke="#000" stroke-width="1.1"/>
<circle cx="2578.3" cy="1969.3" r="3.4" fill="#fff" stroke="#000" stroke-width="1.1"/>
<circle cx="2575.3" cy="1986.7" r="3.4" fill="#fff" stroke="#000" stroke-width="1.1"/>
<circle cx="2615.2" cy="1974.3" r="3.4" fill="#fff" stroke="#000" stroke-width="1.1"/>
<circle cx="2546.6" cy="1991.7" r="3.4" fill="#fff" stroke="#000" stroke-width="1.1"/>
<circle cx="2561.5" cy="1993" r="3.4" fill="#fff" stroke="#000" stroke-width="1.1"/>
<circle cx="2612.7" cy="2009.2" r="3.4" fill="#fff" stroke="#000" stroke-width="1.1"/>
<circle cx="2628.1" cy="2012.2" r="3.4" fill="#fff" stroke="#000" stroke-width="1.1"/>
<circle cx="2601.4" cy="2018.4" r="3.4" fill="#fff" stroke="#000" stroke-width="1.1"/>
<circle cx="2613.9" cy="2019.2" r="3.4" fill="#fff" stroke="#000" stroke-width="1.1"/>
<circle cx="2608.9" cy="2030.4" r="3.4" fill="#fff" stroke="#000" stroke-width="1.1"/>
<circle cx="2607.2" cy="2053.3" r="3.4" fill="#fff" stroke="#000" stroke-width="1.1"/>
<circle cx="2617.7" cy="2052.8" r="3.4" fill="#fff" stroke="#000" stroke-width="1.1"/>
<circle cx="2676.3" cy="1881.5" r="3.4" fill="#fff" stroke="#000" stroke-width="1.1"/>
<circle cx="2674.5" cy="1890.7" r="3.4" fill="#fff" stroke="#000" stroke-width="1.1"/>
<circle cx="2655.1" cy="1899.5" r="3.4" fill="#fff" stroke="#000" stroke-width="1.1"/>
<circle cx="2678.8" cy="1830.9" r="3.4" fill="#fff" stroke="#000" stroke-width="1.1"/>
<circle cx="2820.3" cy="1718.2" r="3.4" fill="#fff" stroke="#000" stroke-width="1.1"/>
<circle cx="2831.6" cy="1716.9" r="3.4" fill="#fff" stroke="#000" stroke-width="1.1"/>
<circle cx="2830.3" cy="1731.6" r="3.4" fill="#fff" stroke="#000" stroke-width="1.1"/>
<circle cx="2916.9" cy="1709.4" r="3.4" fill="#fff" stroke="#000" stroke-width="1.1"/>
<circle cx="2912.4" cy="1724.4" r="3.4" fill="#fff" stroke="#000" stroke-width="1.1"/>
<circle cx="2923.1" cy="1728.6" r="3.4" fill="#fff" stroke="#000" stroke-width="1.1"/>
<circle cx="2903.1" cy="1740.3" r="3.4" fill="#fff" stroke="#000" stroke-width="1.1"/>
<circle cx="2765.5" cy="1754.1" r="3.4" fill="#fff" stroke="#000" stroke-width="1.1"/>
<circle cx="2817.1" cy="1756.6" r="3.4" fill="#fff" stroke="#000" stroke-width="1.1"/>
<circle cx="2761" cy="1831.4" r="3.4" fill="#fff" stroke="#000" stroke-width="1.1"/>
<circle cx="2751.8" cy="1857.8" r="3.4" fill="#fff" stroke="#000" stroke-width="1.1"/>
<circle cx="2683.2" cy="1783.5" r="3.4" fill="#fff" stroke="#000" stroke-width="1.1"/>
<circle cx="2687.4" cy="1820.4" r="3.4" fill="#fff" stroke="#000" stroke-width="1.1"/>
<circle cx="2700.4" cy="1820.4" r="3.4" fill="#fff" stroke="#000" stroke-width="1.1"/>
<circle cx="2690.7" cy="1829.6" r="3.4" fill="#fff" stroke="#000" stroke-width="1.1"/>
<circle cx="2718.1" cy="1838.4" r="3.4" fill="#fff" stroke="#000" stroke-width="1.1"/>
<circle cx="2697.4" cy="1844.1" r="3.4" fill="#fff" stroke="#000" stroke-width="1.1"/>
<circle cx="2693.7" cy="1865.8" r="3.4" fill="#fff" stroke="#000" stroke-width="1.1"/>
<circle cx="2709.9" cy="1866.5" r="3.4" fill="#fff" stroke="#000" stroke-width="1.1"/>
<circle cx="2686.2" cy="1869.5" r="3.4" fill="#fff" stroke="#000" stroke-width="1.1"/>
<circle cx="2701.9" cy="1873.8" r="3.4" fill="#fff" stroke="#000" stroke-width="1.1"/>
<circle cx="2691.2" cy="1878.3" r="3.4" fill="#fff" stroke="#000" stroke-width="1.1"/>
<circle cx="2733.6" cy="1871.5" r="3.4" fill="#fff" stroke="#000" stroke-width="1.1"/>
<circle cx="2716.9" cy="1879.5" r="3.4" fill="#fff" stroke="#000" stroke-width="1.1"/>
<circle cx="2698.2" cy="1911.2" r="3.4" fill="#fff" stroke="#000" stroke-width="1.1"/>
<circle cx="2712.4" cy="1911.2" r="3.4" fill="#fff" stroke="#000" stroke-width="1.1"/>
<circle cx="2770.2" cy="1916.4" r="3.4" fill="#fff" stroke="#000" stroke-width="1.1"/>
<circle cx="2754.3" cy="1937.6" r="3.4" fill="#fff" stroke="#000" stroke-width="1.1"/>
<circle cx="2738.6" cy="1943.8" r="3.4" fill="#fff" stroke="#000" stroke-width="1.1"/>
<circle cx="2731.1" cy="1946.8" r="3.4" fill="#fff" stroke="#000" stroke-width="1.1"/>
<circle cx="2745.5" cy="1952.6" r="3.4" fill="#fff" stroke="#000" stroke-width="1.1"/>
<circle cx="2767.7" cy="1955.1" r="3.4" fill="#fff" stroke="#000" stroke-width="1.1"/>
<circle cx="2840.3" cy="1931.4" r="3.4" fill="#fff" stroke="#000" stroke-width="1.1"/>
<circle cx="2885.2" cy="1929.4" r="3.4" fill="#fff" stroke="#000" stroke-width="1.1"/>
<circle cx="2776.5" cy="1979.3" r="3.4" fill="#fff" stroke="#000" stroke-width="1.1"/>
<circle cx="2734.3" cy="1994.7" r="3.4" fill="#fff" stroke="#000" stroke-width="1.1"/>
<circle cx="2745.5" cy="1997.2" r="3.4" fill="#fff" stroke="#000" stroke-width="1.1"/>
<circle cx="2766.7" cy="1998.5" r="3.4" fill="#fff" stroke="#000" stroke-width="1.1"/>
<circle cx="2790.9" cy="1995.5" r="3.4" fill="#fff" stroke="#000" stroke-width="1.1"/>
<circle cx="2787.2" cy="2016.7" r="3.4" fill="#fff" stroke="#000" stroke-width="1.1"/>
<circle cx="2774.7" cy="2028.6" r="3.4" fill="#fff" stroke="#000" stroke-width="1.1"/>
<circle cx="2770.2" cy="2038.6" r="3.4" fill="#fff" stroke="#000" stroke-width="1.1"/>
<circle cx="2820.3" cy="2037.9" r="3.4" fill="#fff" stroke="#000" stroke-width="1.1"/>
<circle cx="2877.5" cy="2032.4" r="3.4" fill="#fff" stroke="#000" stroke-width="1.1"/>
<circle cx="2778.5" cy="2046.6" r="3.4" fill="#fff" stroke="#000" stroke-width="1.1"/>
<circle cx="2789.2" cy="2045.8" r="3.4" fill="#fff" stroke="#000" stroke-width="1.1"/>
<circle cx="2769.7" cy="2048.6" r="3.4" fill="#fff" stroke="#000" stroke-width="1.1"/>
<circle cx="2772.2" cy="2057.1" r="3.4" fill="#fff" stroke="#000" stroke-width="1.1"/>
<circle cx="2724.3" cy="2059.1" r="3.4" fill="#fff" stroke="#000" stroke-width="1.1"/>
<circle cx="2890.7" cy="2004.9" r="3.4" fill="#fff" stroke="#000" stroke-width="1.1"/>
<circle cx="2915.6" cy="2069" r="3.4" fill="#fff" stroke="#000" stroke-width="1.1"/>
<circle cx="2933.6" cy="2066" r="3.4" fill="#fff" stroke="#000" stroke-width="1.1"/>
<circle cx="2611.2" cy="2107.1" r="3.4" fill="#fff" stroke="#000" stroke-width="1.1"/>
<circle cx="2687.4" cy="2115.8" r="3.4" fill="#fff" stroke="#000" stroke-width="1.1"/>
<circle cx="2691.8" cy="2104.7" r="3.4" fill="#fff" stroke="#000" stroke-width="1.1"/>
<circle cx="2727.7" cy="2117.3" r="3.4" fill="#fff" stroke="#000" stroke-width="1.1"/>
<circle cx="2728.8" cy="2100.3" r="3.4" fill="#fff" stroke="#000" stroke-width="1.1"/>
<circle cx="2742.5" cy="2098.1" r="3.4" fill="#fff" stroke="#000" stroke-width="1.1"/>
<circle cx="2728.8" cy="2088.3" r="3.4" fill="#fff" stroke="#000" stroke-width="1.1"/>
<circle cx="2742.5" cy="2089.4" r="3.4" fill="#fff" stroke="#000" stroke-width="1.1"/>
<circle cx="2773.4" cy="2087.5" r="3.4" fill="#fff" stroke="#000" stroke-width="1.1"/>
<circle cx="2798.5" cy="2087.5" r="3.4" fill="#fff" stroke="#000" stroke-width="1.1"/>
<circle cx="2768" cy="2128.9" r="3.4" fill="#fff" stroke="#000" stroke-width="1.1"/>
<circle cx="2801.7" cy="2128.2" r="3.4" fill="#fff" stroke="#000" stroke-width="1.1"/>
<circle cx="2804.3" cy="2113" r="3.4" fill="#fff" stroke="#000" stroke-width="1.1"/>
<circle cx="2818.5" cy="2105.3" r="3.4" fill="#fff" stroke="#000" stroke-width="1.1"/>
<circle cx="2762.5" cy="2144.5" r="3.4" fill="#fff" stroke="#000" stroke-width="1.1"/>
<circle cx="2907.8" cy="2092.3" r="3.4" fill="#fff" stroke="#000" stroke-width="1.1"/>
<circle cx="2922.2" cy="2092.3" r="3.4" fill="#fff" stroke="#000" stroke-width="1.1"/>
<circle cx="2918.2" cy="2105.8" r="3.4" fill="#fff" stroke="#000" stroke-width="1.1"/>
<circle cx="2929.8" cy="2104.2" r="3.4" fill="#fff" stroke="#000" stroke-width="1.1"/>
<circle cx="2930.2" cy="2094" r="3.4" fill="#fff" stroke="#000" stroke-width="1.1"/>
<circle cx="2946.5" cy="2094" r="3.4" fill="#fff" stroke="#000" stroke-width="1.1"/>
<circle cx="2948.7" cy="2104.9" r="3.4" fill="#fff" stroke="#000" stroke-width="1.1"/>
<circle cx="2985.3" cy="2097.1" r="3.4" fill="#fff" stroke="#000" stroke-width="1.1"/>
<circle cx="2877.5" cy="2158.7" r="3.4" fill="#fff" stroke="#000" stroke-width="1.1"/>
<circle cx="2493.1" cy="2132.6" r="3.4" fill="#fff" stroke="#000" stroke-width="1.1"/>
<circle cx="2499.4" cy="2136.1" r="3.4" fill="#fff" stroke="#000" stroke-width="1.1"/>
<circle cx="2395.6" cy="2192.9" r="3.4" fill="#fff" stroke="#000" stroke-width="1.1"/>
<circle cx="2368.3" cy="2227" r="3.4" fill="#fff" stroke="#000" stroke-width="1.1"/>
<circle cx="2381.8" cy="2233.6" r="3.4" fill="#fff" stroke="#000" stroke-width="1.1"/>
<circle cx="2328.2" cy="2246.5" r="3.4" fill="#fff" stroke="#000" stroke-width="1.1"/>
<circle cx="2356.9" cy="2256.5" r="3.4" fill="#fff" stroke="#000" stroke-width="1.1"/>
<circle cx="2331" cy="2263.7" r="3.4" fill="#fff" stroke="#000" stroke-width="1.1"/>
<circle cx="2309.5" cy="2267.4" r="3.4" fill="#fff" stroke="#000" stroke-width="1.1"/>
<circle cx="2340.5" cy="2281.8" r="3.4" fill="#fff" stroke="#000" stroke-width="1.1"/>
<circle cx="2358.3" cy="2278.1" r="3.4" fill="#fff" stroke="#000" stroke-width="1.1"/>
<circle cx="2386.4" cy="2287.2" r="3.4" fill="#fff" stroke="#000" stroke-width="1.1"/>
<circle cx="2354" cy="2292.4" r="3.4" fill="#fff" stroke="#000" stroke-width="1.1"/>
<circle cx="2362.6" cy="2291.5" r="3.4" fill="#fff" stroke="#000" stroke-width="1.1"/>
<circle cx="2358.3" cy="2322.5" r="3.4" fill="#fff" stroke="#000" stroke-width="1.1"/>
<circle cx="2364" cy="2329.7" r="3.4" fill="#fff" stroke="#000" stroke-width="1.1"/>
<circle cx="2373.5" cy="2327.7" r="3.4" fill="#fff" stroke="#000" stroke-width="1.1"/>
<circle cx="2320.4" cy="2367.8" r="3.4" fill="#fff" stroke="#000" stroke-width="1.1"/>
<circle cx="2355.4" cy="2367" r="3.4" fill="#fff" stroke="#000" stroke-width="1.1"/>
<circle cx="2247.9" cy="2287.2" r="3.4" fill="#fff" stroke="#000" stroke-width="1.1"/>
<circle cx="2245.9" cy="2277.5" r="3.4" fill="#fff" stroke="#000" stroke-width="1.1"/>
<circle cx="2156.1" cy="2217.3" r="3.4" fill="#fff" stroke="#000" stroke-width="1.1"/>
<circle cx="2168.4" cy="2236.5" r="3.4" fill="#fff" stroke="#000" stroke-width="1.1"/>
<circle cx="2199.1" cy="2278.9" r="3.4" fill="#fff" stroke="#000" stroke-width="1.1"/>
<circle cx="2200" cy="2293.8" r="3.4" fill="#fff" stroke="#000" stroke-width="1.1"/>
<circle cx="2187.6" cy="2293.8" r="3.4" fill="#fff" stroke="#000" stroke-width="1.1"/>
<circle cx="2166.7" cy="2291" r="3.4" fill="#fff" stroke="#000" stroke-width="1.1"/>
<circle cx="2166.1" cy="2301.6" r="3.4" fill="#fff" stroke="#000" stroke-width="1.1"/>
<circle cx="2216.3" cy="2295.3" r="3.4" fill="#fff" stroke="#000" stroke-width="1.1"/>
<circle cx="2124" cy="2316.2" r="3.4" fill="#fff" stroke="#000" stroke-width="1.1"/>
<circle cx="2131.1" cy="2322.5" r="3.4" fill="#fff" stroke="#000" stroke-width="1.1"/>
<circle cx="2191.9" cy="2316.2" r="3.4" fill="#fff" stroke="#000" stroke-width="1.1"/>
<circle cx="2201.4" cy="2322.5" r="3.4" fill="#fff" stroke="#000" stroke-width="1.1"/>
<circle cx="2182.5" cy="2330.3" r="3.4" fill="#fff" stroke="#000" stroke-width="1.1"/>
<circle cx="2192.5" cy="2336.3" r="3.4" fill="#fff" stroke="#000" stroke-width="1.1"/>
<circle cx="2138.9" cy="2343.5" r="3.4" fill="#fff" stroke="#000" stroke-width="1.1"/>
<circle cx="2150.3" cy="2343.5" r="3.4" fill="#fff" stroke="#000" stroke-width="1.1"/>
<circle cx="2170.4" cy="2344.9" r="3.4" fill="#fff" stroke="#000" stroke-width="1.1"/>
<circle cx="2170.4" cy="2361.8" r="3.4" fill="#fff" stroke="#000" stroke-width="1.1"/>
<circle cx="2154.7" cy="2364.7" r="3.4" fill="#fff" stroke="#000" stroke-width="1.1"/>
<circle cx="2245.9" cy="2325.4" r="3.4" fill="#fff" stroke="#000" stroke-width="1.1"/>
<circle cx="2257.9" cy="2323.1" r="3.4" fill="#fff" stroke="#000" stroke-width="1.1"/>
<circle cx="2271.4" cy="2330.3" r="3.4" fill="#fff" stroke="#000" stroke-width="1.1"/>
<circle cx="2177" cy="2465.4" r="3.4" fill="#fff" stroke="#000" stroke-width="1.1"/>
<circle cx="2146.1" cy="1893.6" r="3.4" fill="#fff" stroke="#000" stroke-width="1.1"/>
<circle cx="2042.4" cy="1903.1" r="3.4" fill="#fff" stroke="#000" stroke-width="1.1"/>
<circle cx="2000" cy="1911.7" r="3.4" fill="#fff" stroke="#000" stroke-width="1.1"/>
<circle cx="2002.3" cy="1924.7" r="3.4" fill="#fff" stroke="#000" stroke-width="1.1"/>
<circle cx="2109.2" cy="1817.1" r="3.4" fill="#fff" stroke="#000" stroke-width="1.1"/>
<circle cx="1786" cy="2020.5" r="3.4" fill="#fff" stroke="#000" stroke-width="1.1"/>
<circle cx="1779.7" cy="2051.7" r="3.4" fill="#fff" stroke="#000" stroke-width="1.1"/>
<circle cx="1703.3" cy="2069.1" r="3.4" fill="#fff" stroke="#000" stroke-width="1.1"/>
<circle cx="1978.5" cy="1999.4" r="3.4" fill="#fff" stroke="#000" stroke-width="1.1"/>
<circle cx="1994.4" cy="1998.5" r="3.4" fill="#fff" stroke="#000" stroke-width="1.1"/>
<circle cx="1981.9" cy="2032.5" r="3.4" fill="#fff" stroke="#000" stroke-width="1.1"/>
<circle cx="1932.5" cy="2048.1" r="3.4" fill="#fff" stroke="#000" stroke-width="1.1"/>
<circle cx="1853.3" cy="2038.1" r="3.4" fill="#fff" stroke="#000" stroke-width="1.1"/>
<circle cx="1927.3" cy="2019.3" r="3.4" fill="#fff" stroke="#000" stroke-width="1.1"/>
<circle cx="1976.7" cy="2073.2" r="3.4" fill="#fff" stroke="#000" stroke-width="1.1"/>
<circle cx="2329.6" cy="1320.4" r="3.6" fill="#00ff00" stroke="#cc0000" stroke-width="1"/>
<circle cx="2199.5" cy="1539.9" r="3.6" fill="#00ff00" stroke="#cc0000" stroke-width="1"/>
<circle cx="2448.1" cy="1563.8" r="3.6" fill="#00ff00" stroke="#cc0000" stroke-width="1"/>
<circle cx="2233.1" cy="1664.6" r="3.6" fill="#00ff00" stroke="#cc0000" stroke-width="1"/>
<circle cx="2946.7" cy="1405.5" r="3.6" fill="#00ff00" stroke="#cc0000" stroke-width="1"/>
<circle cx="2901.3" cy="1636.7" r="3.6" fill="#00ff00" stroke="#cc0000" stroke-width="1"/>
<circle cx="2809.5" cy="1660.3" r="3.6" fill="#00ff00" stroke="#cc0000" stroke-width="1"/>
<circle cx="2783.4" cy="2064.8" r="3.6" fill="#00ff00" stroke="#cc0000" stroke-width="1"/>
<circle cx="2783.2" cy="2064.4" r="3.6" fill="#00ff00" stroke="#cc0000" stroke-width="1"/>
<circle cx="2481.6" cy="2130.3" r="3.6" fill="#00ff00" stroke="#cc0000" stroke-width="1"/>
<line x1="1885" y1="1876" x2="2058.3" y2="1702.5" stroke="#ff0000" stroke-width="6"/>
<polygon points="1973.3,1764.1 1984.2,1796.2 1961.5,1796.2" fill="#00ff00" stroke="#000" stroke-width="1"/>
<text x="1997.1" y="1813" font-size="45" font-family="Liberation Serif" fill="#ff0000" textLength="303" lengthAdjust="spacingAndGlyphs">IM(PGA、PGV)</text>
<text x="2201" y="1329.3" font-size="44" font-family="Liberation Serif" fill="#1a0a0a" textLength="106" lengthAdjust="spacingAndGlyphs">297号</text>
<text x="2084.2" y="1549.1" font-size="44" font-family="Liberation Serif" fill="#1a0a0a" textLength="106" lengthAdjust="spacingAndGlyphs">299号</text>
<text x="2345.3" y="1554" font-size="44" font-family="Liberation Serif" fill="#1a0a0a" textLength="106" lengthAdjust="spacingAndGlyphs">254号</text>
<text x="2162" y="1654.5" font-size="44" font-family="Liberation Serif" fill="#1a0a0a" textLength="82" lengthAdjust="spacingAndGlyphs">85号</text>
<text x="2960.4" y="1415.2" font-size="44" font-family="Liberation Serif" fill="#1a0a0a" textLength="106" lengthAdjust="spacingAndGlyphs">157号</text>
<text x="2699.3" y="1635.4" font-size="44" font-family="Liberation Serif" fill="#1a0a0a" textLength="106" lengthAdjust="spacingAndGlyphs">178号</text>
<text x="2919.3" y="1639.2" font-size="44" font-family="Liberation Serif" fill="#1a0a0a" textLength="106" lengthAdjust="spacingAndGlyphs">170号</text>
<text x="2794.1" y="2079.2" font-size="44" font-family="Liberation Serif" fill="#1a0a0a" textLength="102" lengthAdjust="spacingAndGlyphs">117号</text>
<text x="2418.5" y="2137.5" font-size="44" font-family="Liberation Serif" fill="#1a0a0a" textLength="60" lengthAdjust="spacingAndGlyphs">3号</text>
<text x="2361.2" y="2360.7" font-size="44" font-family="Liberation Serif" fill="#1a0a0a" textLength="68" lengthAdjust="spacingAndGlyphs">A区</text>
<text x="2183.3" y="2440.1" font-size="44" font-family="Liberation Serif" fill="#1a0a0a" textLength="68" lengthAdjust="spacingAndGlyphs">B区</text>
<rect x="2087.2" y="2174.2" width="170.1" height="303.2" fill="none" stroke="#000" stroke-width="1.3"/>
<rect x="2257.3" y="2174.2" width="172.1" height="207.1" fill="none" stroke="#000" stroke-width="1.3"/>
<rect x="3105.4" y="1465.5" width="120.2" height="9.1" fill="#fff" stroke="#333" stroke-width="1"/>
<rect x="3105.4" y="1465.5" width="12.5" height="4.5" fill="#000"/>
<rect x="3117.9" y="1470" width="11" height="4.5" fill="#000"/>
<rect x="3128.9" y="1465.5" width="35.9" height="4.5" fill="#000"/>
<rect x="3164.8" y="1470" width="60.8" height="4.5" fill="#000"/>
<text x="3103.7" y="1462.6" font-size="22" font-family="Liberation Serif" fill="#000" text-anchor="middle">0</text>
<text x="3129.6" y="1462.6" font-size="22" font-family="Liberation Serif" fill="#000" text-anchor="middle">2</text>
<text x="3115.4" y="1492.8" font-size="22" font-family="Liberation Serif" fill="#000" text-anchor="middle">1</text>
<text x="3164.8" y="1492.8" font-size="22" font-family="Liberation Serif" fill="#000" text-anchor="middle">5</text>
<text x="3219.4" y="1462.6" font-size="22" font-family="Liberation Serif" fill="#000" textLength="59.4" lengthAdjust="spacingAndGlyphs">10KM</text>
<rect x="3025.4" y="2018.1" width="472" height="293.1" fill="#fff" stroke="#000" stroke-width="1.3"/>
<text x="3054.1" y="2054.1" font-size="30" font-family="Liberation Serif" fill="#000" textLength="58" lengthAdjust="spacingAndGlyphs">图例</text>
<text x="3054.1" y="2095.2" font-size="30" font-family="Liberation Serif" fill="#000" textLength="155" lengthAdjust="spacingAndGlyphs">天然气门站</text>
<text x="3054.1" y="2136.4" font-size="30" font-family="Liberation Serif" fill="#000" textLength="126" lengthAdjust="spacingAndGlyphs">假想震源</text>
<text x="3054.1" y="2177.6" font-size="30" font-family="Liberation Serif" fill="#000" textLength="60" lengthAdjust="spacingAndGlyphs">断层</text>
<text x="3054.1" y="2217.5" font-size="30" font-family="Liberation Serif" fill="#000" textLength="331" lengthAdjust="spacingAndGlyphs">高压A管线（PN 4.0MPa）</text>
<text x="3054.1" y="2259.9" font-size="30" font-family="Liberation Serif" fill="#000" textLength="331" lengthAdjust="spacingAndGlyphs">高压B管线（PN 2.5MPa）</text>
<text x="3054.1" y="2299.9" font-size="30" font-family="Liberation Serif" fill="#000" textLength="365.7" lengthAdjust="spacingAndGlyphs">次高压A管线（PN 1.6MPa）</text>
<circle cx="3238.2" cy="2085.1" r="9.2" fill="#00ff00" stroke="#cc0000" stroke-width="1"/>
<polygon points="3237.5,2112.4 3243.9,2132.4 3231.2,2132.4" fill="#00ff00" stroke="#000" stroke-width="1"/>
<rect x="3218.2" y="2164.6" width="43.6" height="7" fill="#ff0000"/>
<line x1="3433.9" y1="2206.3" x2="3477.9" y2="2206.3" stroke="#0000ff" stroke-width="1.5"/>
<line x1="3433.9" y1="2250" x2="3478.6" y2="2250" stroke="#ff00ff" stroke-width="1.5"/>
<line x1="3435" y1="2286.9" x2="3479.7" y2="2286.9" stroke="#ff0000" stroke-width="1.5"/>
</svg></body></html>
